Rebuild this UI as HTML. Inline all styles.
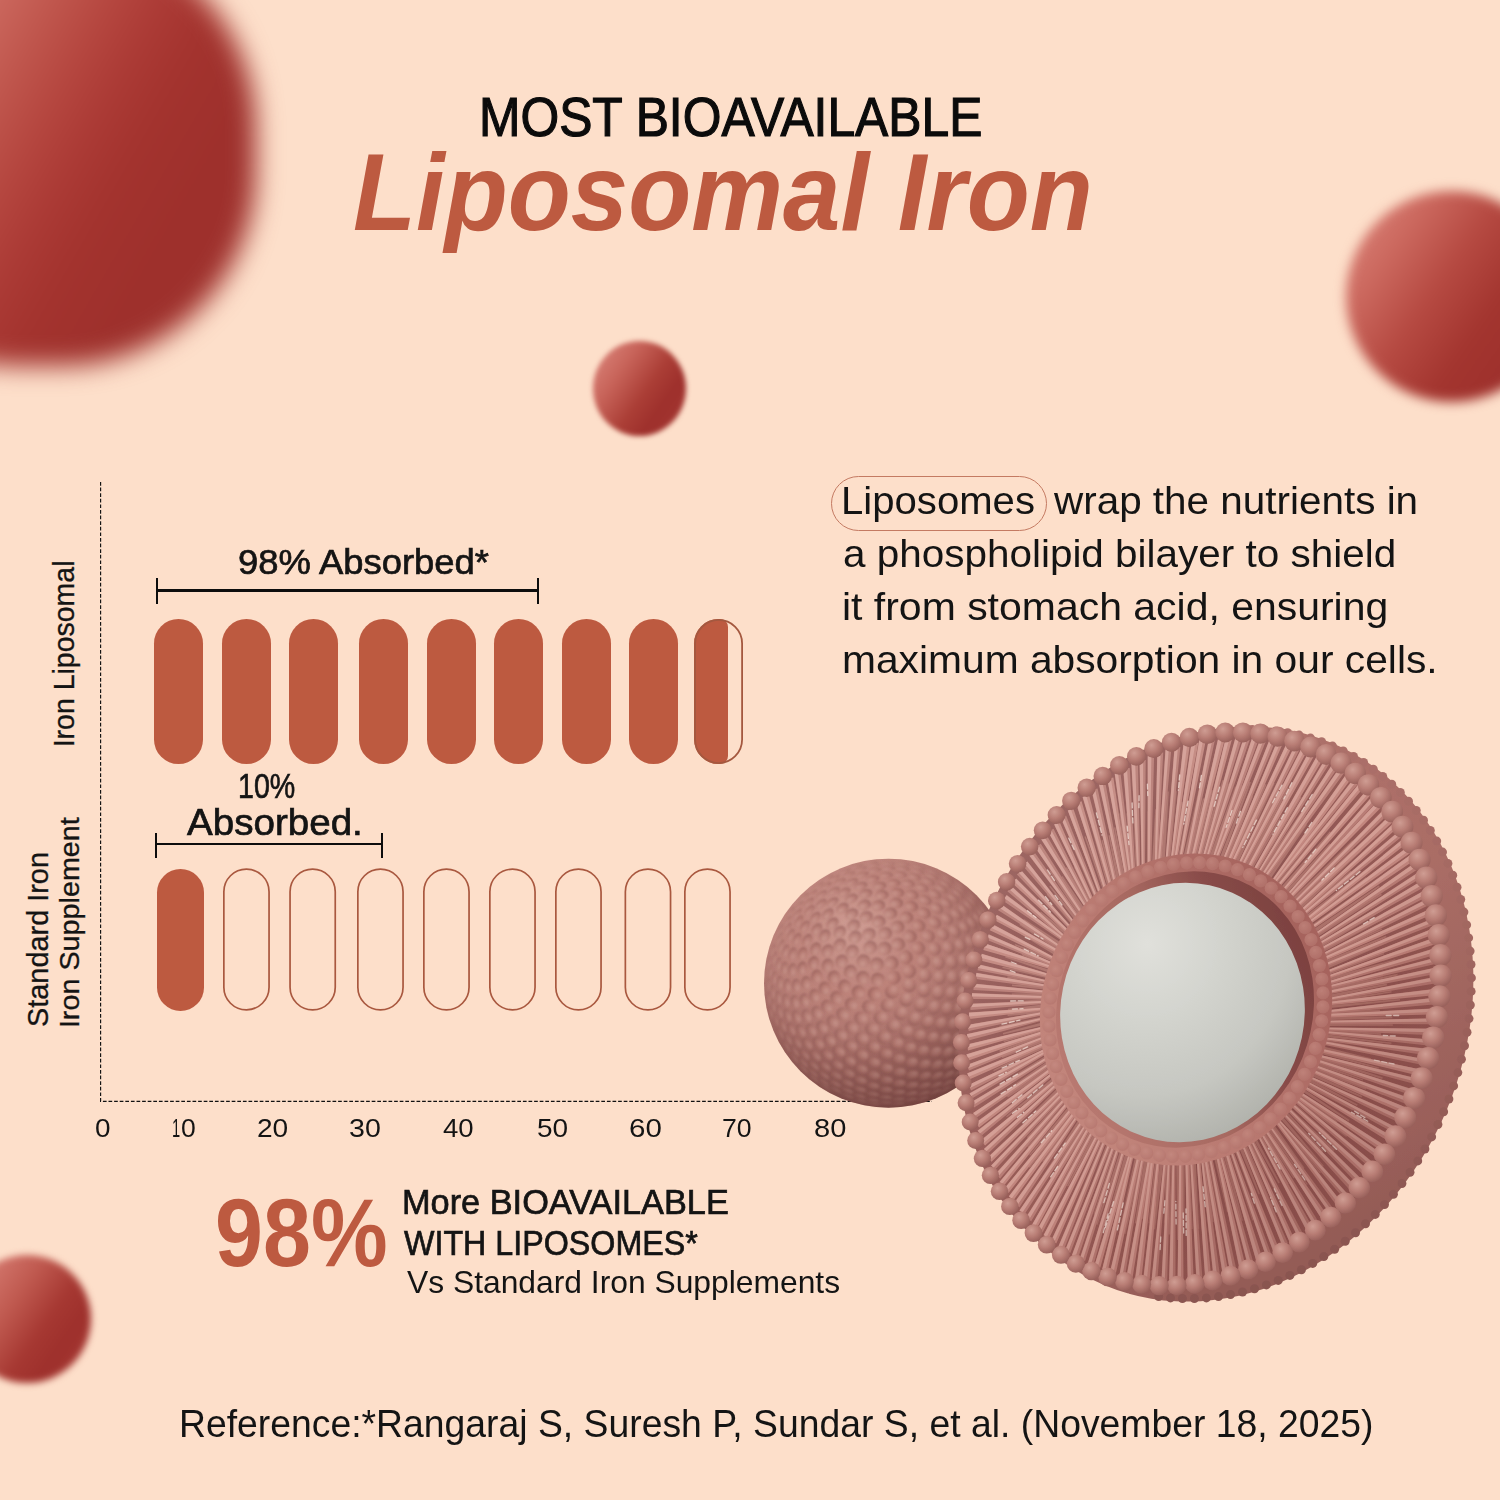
<!DOCTYPE html>
<html><head><meta charset="utf-8"><title>Liposomal Iron</title>
<style>
html,body{margin:0;padding:0}
html{width:1500px;height:1500px;overflow:hidden}
body{width:1500px;height:1500px;background:#FDDFCA;font-family:"Liberation Sans",sans-serif}
#stage{position:relative;width:1500px;height:1500px;overflow:hidden;background:#FDDFCA}
.t{position:absolute;white-space:nowrap;line-height:1;transform-origin:0 0;margin:0;padding:0}
.sp{position:absolute;border-radius:50%}
.pf{position:absolute;background:#BD5A40;border-radius:24.5px}
.po{position:absolute;box-sizing:border-box;border:1.6px solid #B8664E;border-radius:24.5px}
.bl{position:absolute;background:#0d0d0d}
svg{position:absolute;left:0;top:0}
</style></head><body><div id="stage">

<div class="sp" style="left:-176px;top:-66px;width:432px;height:432px;border-radius:45%;filter:blur(13px);background:linear-gradient(120deg,#D17267 25%,#CB675D 31%,#BF554C 40%,#B5463F 48%,#AB3A35 56%,#A3332E 64%,#9E302C 76%,#9F312D 100%)"></div>
<div class="sp" style="left:1346px;top:190.5px;width:211px;height:211px;filter:blur(6px);background:linear-gradient(125deg,#DB8379 5%,#CC695F 24%,#B64A42 44%,#A3352F 64%,#9E302C 82%,#A33530 100%)"></div>
<div class="sp" style="left:593px;top:341px;width:92.5px;height:95px;filter:blur(2.7px);background:linear-gradient(125deg,#DB857B 5%,#C8645A 30%,#AB3E36 55%,#9E302C 72%,#A63833 100%)"></div>
<div class="sp" style="left:-37.5px;top:1254.5px;width:128px;height:128px;filter:blur(3.8px);background:linear-gradient(125deg,#D4786E 15%,#C05A50 38%,#A63832 60%,#9E302C 75%,#A83A34 100%)"></div>

<div class="pf" style="left:154px;top:619px;width:49px;height:145px"></div>
<div class="pf" style="left:222px;top:619px;width:49px;height:145px"></div>
<div class="pf" style="left:289px;top:619px;width:49px;height:145px"></div>
<div class="pf" style="left:359px;top:619px;width:49px;height:145px"></div>
<div class="pf" style="left:427px;top:619px;width:49px;height:145px"></div>
<div class="pf" style="left:494px;top:619px;width:49px;height:145px"></div>
<div class="pf" style="left:562px;top:619px;width:49px;height:145px"></div>
<div class="pf" style="left:629px;top:619px;width:49px;height:145px"></div>
<div class="pf" style="left:694.2px;top:619px;width:34px;height:145px;border-radius:24.5px 8px 8px 24.5px / 24.5px 8px 8px 24.5px"></div>
<div class="pf" style="left:157px;top:868.5px;width:47.3px;height:142px"></div>
<svg width="1500" height="1500" viewBox="0 0 1500 1500"><rect x="695.10" y="619.90" width="47.00" height="143.20" rx="23.50" fill="none" stroke="#A4583F" stroke-width="1.8"/><rect x="223.85" y="869.15" width="45.20" height="140.70" rx="22.60" fill="none" stroke="#A9583F" stroke-width="1.7"/><rect x="290.05" y="869.15" width="45.20" height="140.70" rx="22.60" fill="none" stroke="#A9583F" stroke-width="1.7"/><rect x="357.85" y="869.15" width="45.20" height="140.70" rx="22.60" fill="none" stroke="#A9583F" stroke-width="1.7"/><rect x="423.85" y="869.15" width="45.20" height="140.70" rx="22.60" fill="none" stroke="#A9583F" stroke-width="1.7"/><rect x="489.85" y="869.15" width="45.20" height="140.70" rx="22.60" fill="none" stroke="#A9583F" stroke-width="1.7"/><rect x="555.85" y="869.15" width="45.20" height="140.70" rx="22.60" fill="none" stroke="#A9583F" stroke-width="1.7"/><rect x="625.35" y="869.15" width="45.20" height="140.70" rx="22.60" fill="none" stroke="#A9583F" stroke-width="1.7"/><rect x="684.85" y="869.15" width="45.20" height="140.70" rx="22.60" fill="none" stroke="#A9583F" stroke-width="1.7"/></svg>
<div class="bl" style="left:157px;top:589.3px;width:381px;height:2.4px"></div><div class="bl" style="left:156.1px;top:578px;width:1.8px;height:25.5px"></div><div class="bl" style="left:537.1px;top:578px;width:1.8px;height:25.5px"></div>
<div class="bl" style="left:156px;top:842.8px;width:226px;height:2.4px"></div><div class="bl" style="left:155.1px;top:833px;width:1.8px;height:25px"></div><div class="bl" style="left:381.1px;top:833px;width:1.8px;height:25px"></div>
<svg width="1500" height="1500" viewBox="0 0 1500 1500"><path d="M100.6 482V1101.3H932" fill="none" stroke="#111" stroke-width="1.15" stroke-dasharray="3.7 1.9"/></svg>
<div style="position:absolute;left:831px;top:476.3px;width:215.6px;height:55px;box-sizing:border-box;border:1.2px solid #C47A62;border-radius:27.5px"></div>
<svg width="1500" height="1500" viewBox="0 0 1500 1500"><defs><filter id="soft2" x="-5%" y="-5%" width="110%" height="110%"><feGaussianBlur stdDeviation="0.8"/></filter><filter id="soft" x="-2%" y="-2%" width="104%" height="104%"><feColorMatrix type="saturate" values="0.95"/><feGaussianBlur stdDeviation="0.7"/></filter>
<radialGradient id="gS" cx="0.36" cy="0.27" r="0.85">
 <stop offset="0" stop-color="#CE958B"/><stop offset="0.4" stop-color="#BC7E75"/><stop offset="0.75" stop-color="#9E635D"/><stop offset="1" stop-color="#88504C"/>
</radialGradient>
<radialGradient id="gSsh" cx="0.38" cy="0.30" r="0.8">
 <stop offset="0" stop-color="#fff" stop-opacity="0.07"/><stop offset="0.3" stop-color="#fff" stop-opacity="0"/><stop offset="0.6" stop-color="#4e2422" stop-opacity="0.08"/><stop offset="1" stop-color="#4e2422" stop-opacity="0.50"/>
</radialGradient>
<radialGradient id="gB" cx="0.38" cy="0.32" r="0.75">
 <stop offset="0" stop-color="#CC968C"/><stop offset="0.55" stop-color="#B6786F"/><stop offset="1" stop-color="#945B56"/>
</radialGradient>
<linearGradient id="gDome" x1="0" y1="0" x2="1" y2="1">
 <stop offset="0" stop-color="#B6766D"/><stop offset="0.45" stop-color="#AC6C64"/><stop offset="0.75" stop-color="#9C5F59"/><stop offset="1" stop-color="#8A524D"/>
</linearGradient>
<linearGradient id="gDome2" gradientUnits="userSpaceOnUse" x1="1250" y1="730" x2="1420" y2="1250">
 <stop offset="0" stop-color="#B0716A"/><stop offset="0.5" stop-color="#A3655E"/><stop offset="1" stop-color="#8A524D"/>
</linearGradient>
<radialGradient id="gFace" cx="0.45" cy="0.45" r="0.6">
 <stop offset="0" stop-color="#844845"/><stop offset="0.6" stop-color="#8F504C"/><stop offset="1" stop-color="#9C5B55"/>
</radialGradient>
<linearGradient id="gFaceSh" x1="0.08" y1="0.3" x2="0.95" y2="0.75">
 <stop offset="0" stop-color="#fff" stop-opacity="0.10"/><stop offset="0.45" stop-color="#fff" stop-opacity="0.03"/><stop offset="0.7" stop-color="#5a2523" stop-opacity="0.08"/><stop offset="1" stop-color="#5a2523" stop-opacity="0.24"/>
</linearGradient>
<linearGradient id="gInner" x1="0.75" y1="0.1" x2="0.2" y2="0.9">
 <stop offset="0" stop-color="#A8625C"/><stop offset="0.5" stop-color="#BA776E"/><stop offset="1" stop-color="#C4847A"/>
</linearGradient>
<radialGradient id="gIB" cx="0.4" cy="0.35" r="0.7">
 <stop offset="0" stop-color="#C88A80"/><stop offset="1" stop-color="#B5736B"/>
</radialGradient>
<linearGradient id="gCav" x1="0.85" y1="0.08" x2="0.15" y2="0.85">
 <stop offset="0" stop-color="#7C3F3D"/><stop offset="0.28" stop-color="#8A4A47"/><stop offset="0.55" stop-color="#A9685F"/><stop offset="1" stop-color="#BA786F"/>
</linearGradient>
<radialGradient id="gCore" cx="0.30" cy="0.27" r="0.9">
 <stop offset="0" stop-color="#E0E0DB"/><stop offset="0.3" stop-color="#D4D5CF"/><stop offset="0.65" stop-color="#C6C7C1"/><stop offset="1" stop-color="#A9AAA3"/>
</radialGradient>
<radialGradient id="gBead" cx="0.38" cy="0.32" r="0.75">
 <stop offset="0" stop-color="#D19C92"/><stop offset="0.5" stop-color="#BA7C73"/><stop offset="1" stop-color="#965C56"/>
</radialGradient>
</defs><g filter="url(#soft)"><circle cx="888.5" cy="983.2" r="124.5" fill="url(#gS)"/>
<g fill="url(#gB)" filter="url(#soft2)" opacity="0.9"><ellipse cx="991.3" cy="1048.4" rx="1.8" ry="7.0" transform="rotate(32.4 991.3 1048.4)" opacity="0.46"/><ellipse cx="873.1" cy="1103.9" rx="1.8" ry="7.0" transform="rotate(97.3 873.1 1103.9)" opacity="0.46"/><ellipse cx="870.9" cy="862.8" rx="1.8" ry="7.0" transform="rotate(-98.3 870.9 862.8)" opacity="0.46"/><ellipse cx="824.6" cy="1086.7" rx="1.8" ry="7.0" transform="rotate(121.7 824.6 1086.7)" opacity="0.46"/><ellipse cx="947.6" cy="877.0" rx="1.8" ry="7.0" transform="rotate(-60.9 947.6 877.0)" opacity="0.47"/><ellipse cx="827.4" cy="878.3" rx="1.8" ry="7.0" transform="rotate(-120.2 827.4 878.3)" opacity="0.48"/><ellipse cx="993.4" cy="922.0" rx="1.8" ry="7.0" transform="rotate(-30.3 993.4 922.0)" opacity="0.48"/><ellipse cx="998.8" cy="1033.9" rx="1.8" ry="7.0" transform="rotate(24.7 998.8 1033.9)" opacity="0.48"/><ellipse cx="770.7" cy="1012.3" rx="1.8" ry="7.0" transform="rotate(166.1 770.7 1012.3)" opacity="0.48"/><ellipse cx="965.5" cy="1076.9" rx="1.8" ry="7.0" transform="rotate(50.6 965.5 1076.9)" opacity="0.48"/><ellipse cx="769.0" cy="962.7" rx="1.8" ry="7.0" transform="rotate(-170.3 769.0 962.7)" opacity="0.48"/><ellipse cx="813.3" cy="1078.3" rx="1.8" ry="7.0" transform="rotate(128.3 813.3 1078.3)" opacity="0.49"/><ellipse cx="961.2" cy="886.4" rx="1.8" ry="7.0" transform="rotate(-53.1 961.2 886.4)" opacity="0.49"/><ellipse cx="856.8" cy="866.3" rx="1.8" ry="7.0" transform="rotate(-105.2 856.8 866.3)" opacity="0.49"/><ellipse cx="790.3" cy="912.5" rx="1.8" ry="7.0" transform="rotate(-144.3 790.3 912.5)" opacity="0.50"/><ellipse cx="897.9" cy="1103.7" rx="1.8" ry="7.0" transform="rotate(85.5 897.9 1103.7)" opacity="0.50"/><ellipse cx="860.2" cy="1100.7" rx="1.8" ry="7.0" transform="rotate(103.5 860.2 1100.7)" opacity="0.50"/><ellipse cx="803.1" cy="1068.6" rx="1.8" ry="7.0" transform="rotate(135.0 803.1 1068.6)" opacity="0.51"/><ellipse cx="779.9" cy="930.4" rx="1.8" ry="7.0" transform="rotate(-154.0 779.9 930.4)" opacity="0.51"/><ellipse cx="803.5" cy="897.5" rx="1.8" ry="7.0" transform="rotate(-134.8 803.5 897.5)" opacity="0.51"/><ellipse cx="768.8" cy="998.5" rx="1.8" ry="7.0" transform="rotate(172.7 768.8 998.5)" opacity="0.51"/><ellipse cx="945.2" cy="1089.7" rx="1.8" ry="7.0" transform="rotate(62.0 945.2 1089.7)" opacity="0.51"/><ellipse cx="922.3" cy="1098.9" rx="1.8" ry="7.0" transform="rotate(73.7 922.3 1098.9)" opacity="0.52"/><ellipse cx="973.3" cy="897.7" rx="1.8" ry="7.0" transform="rotate(-45.2 973.3 897.7)" opacity="0.52"/><ellipse cx="976.1" cy="1065.7" rx="1.8" ry="7.0" transform="rotate(43.3 976.1 1065.7)" opacity="0.52"/><ellipse cx="794.1" cy="1057.8" rx="1.8" ry="7.0" transform="rotate(141.7 794.1 1057.8)" opacity="0.52"/><ellipse cx="844.3" cy="871.6" rx="1.8" ry="7.0" transform="rotate(-111.6 844.3 871.6)" opacity="0.53"/><ellipse cx="847.4" cy="1096.0" rx="1.8" ry="7.0" transform="rotate(110.0 847.4 1096.0)" opacity="0.54"/><ellipse cx="773.1" cy="950.2" rx="1.8" ry="7.0" transform="rotate(-164.0 773.1 950.2)" opacity="0.54"/><ellipse cx="818.3" cy="886.0" rx="1.8" ry="7.0" transform="rotate(-125.8 818.3 886.0)" opacity="0.54"/><ellipse cx="768.7" cy="984.6" rx="1.8" ry="7.0" transform="rotate(179.3 768.7 984.6)" opacity="0.54"/><ellipse cx="786.4" cy="1045.9" rx="1.8" ry="7.0" transform="rotate(148.4 786.4 1045.9)" opacity="0.54"/><ellipse cx="903.3" cy="864.4" rx="1.8" ry="7.0" transform="rotate(-82.9 903.3 864.4)" opacity="0.54"/><ellipse cx="918.5" cy="867.3" rx="1.8" ry="7.0" transform="rotate(-75.5 918.5 867.3)" opacity="0.55"/><ellipse cx="983.7" cy="910.8" rx="1.8" ry="7.0" transform="rotate(-37.2 983.7 910.8)" opacity="0.55"/><ellipse cx="885.2" cy="1102.7" rx="1.8" ry="7.0" transform="rotate(91.6 885.2 1102.7)" opacity="0.55"/><ellipse cx="888.2" cy="863.7" rx="1.8" ry="7.0" transform="rotate(-90.2 888.2 863.7)" opacity="0.55"/><ellipse cx="985.7" cy="1052.7" rx="1.8" ry="7.0" transform="rotate(35.6 985.7 1052.7)" opacity="0.55"/><ellipse cx="933.4" cy="872.5" rx="1.8" ry="7.0" transform="rotate(-67.9 933.4 872.5)" opacity="0.55"/><ellipse cx="780.3" cy="1033.2" rx="1.8" ry="7.0" transform="rotate(155.2 780.3 1033.2)" opacity="0.56"/><ellipse cx="835.1" cy="1089.7" rx="1.8" ry="7.0" transform="rotate(116.6 835.1 1089.7)" opacity="0.56"/><ellipse cx="957.0" cy="1080.6" rx="1.8" ry="7.0" transform="rotate(54.9 957.0 1080.6)" opacity="0.56"/><ellipse cx="947.5" cy="880.0" rx="1.8" ry="7.0" transform="rotate(-60.2 947.5 880.0)" opacity="0.57"/><ellipse cx="873.7" cy="865.3" rx="1.8" ry="7.0" transform="rotate(-97.2 873.7 865.3)" opacity="0.57"/><ellipse cx="993.8" cy="1038.1" rx="1.8" ry="7.0" transform="rotate(27.5 993.8 1038.1)" opacity="0.57"/><ellipse cx="910.5" cy="1099.8" rx="1.8" ry="7.0" transform="rotate(79.3 910.5 1099.8)" opacity="0.58"/><ellipse cx="992.1" cy="925.5" rx="1.8" ry="7.0" transform="rotate(-29.1 992.1 925.5)" opacity="0.58"/><ellipse cx="770.6" cy="971.0" rx="1.8" ry="7.0" transform="rotate(-174.1 770.6 971.0)" opacity="0.58"/><ellipse cx="787.5" cy="921.2" rx="1.8" ry="7.0" transform="rotate(-148.4 787.5 921.2)" opacity="0.58"/><ellipse cx="934.8" cy="1092.2" rx="1.8" ry="7.0" transform="rotate(67.0 934.8 1092.2)" opacity="0.58"/><ellipse cx="775.9" cy="1019.8" rx="1.8" ry="7.0" transform="rotate(162.0 775.9 1019.8)" opacity="0.58"/><ellipse cx="798.8" cy="906.1" rx="1.8" ry="7.0" transform="rotate(-139.3 798.8 906.1)" opacity="0.59"/><ellipse cx="833.8" cy="878.3" rx="1.8" ry="7.0" transform="rotate(-117.5 833.8 878.3)" opacity="0.59"/><ellipse cx="823.5" cy="1082.0" rx="1.8" ry="7.0" transform="rotate(123.4 823.5 1082.0)" opacity="0.59"/><ellipse cx="872.3" cy="1100.2" rx="1.9" ry="7.0" transform="rotate(97.9 872.3 1100.2)" opacity="0.59"/><ellipse cx="960.5" cy="889.7" rx="1.9" ry="7.0" transform="rotate(-52.4 960.5 889.7)" opacity="0.59"/><ellipse cx="779.3" cy="938.8" rx="1.9" ry="7.0" transform="rotate(-157.9 779.3 938.8)" opacity="0.60"/><ellipse cx="860.4" cy="869.0" rx="2.0" ry="7.0" transform="rotate(-103.8 860.4 869.0)" opacity="0.61"/><ellipse cx="998.3" cy="941.3" rx="2.0" ry="7.0" transform="rotate(-20.9 998.3 941.3)" opacity="0.61"/><ellipse cx="968.2" cy="1069.5" rx="2.0" ry="7.0" transform="rotate(47.3 968.2 1069.5)" opacity="0.61"/><ellipse cx="812.7" cy="1072.9" rx="2.0" ry="7.0" transform="rotate(130.2 812.7 1072.9)" opacity="0.61"/><ellipse cx="773.3" cy="1005.9" rx="2.0" ry="7.0" transform="rotate(168.8 773.3 1005.9)" opacity="0.61"/><ellipse cx="811.9" cy="894.3" rx="2.0" ry="7.0" transform="rotate(-130.7 811.9 894.3)" opacity="0.61"/><ellipse cx="971.9" cy="901.2" rx="2.1" ry="7.0" transform="rotate(-44.5 971.9 901.2)" opacity="0.62"/><ellipse cx="859.4" cy="1096.2" rx="2.2" ry="7.0" transform="rotate(104.4 859.4 1096.2)" opacity="0.63"/><ellipse cx="803.1" cy="1062.6" rx="2.2" ry="7.0" transform="rotate(137.1 803.1 1062.6)" opacity="0.63"/><ellipse cx="774.7" cy="958.0" rx="2.2" ry="7.0" transform="rotate(-167.5 774.7 958.0)" opacity="0.63"/><ellipse cx="898.0" cy="1099.4" rx="2.2" ry="7.0" transform="rotate(85.3 898.0 1099.4)" opacity="0.63"/><ellipse cx="947.1" cy="1083.5" rx="2.2" ry="7.0" transform="rotate(59.7 947.1 1083.5)" opacity="0.64"/><ellipse cx="772.7" cy="991.9" rx="2.3" ry="7.0" transform="rotate(175.7 772.7 991.9)" opacity="0.64"/><ellipse cx="978.4" cy="1056.6" rx="2.3" ry="7.0" transform="rotate(39.2 978.4 1056.6)" opacity="0.64"/><ellipse cx="923.4" cy="1093.6" rx="2.3" ry="7.0" transform="rotate(72.5 923.4 1093.6)" opacity="0.65"/><ellipse cx="794.8" cy="1051.2" rx="2.3" ry="7.0" transform="rotate(144.1 794.8 1051.2)" opacity="0.65"/><ellipse cx="981.6" cy="914.6" rx="2.3" ry="7.0" transform="rotate(-36.4 981.6 914.6)" opacity="0.65"/><ellipse cx="917.6" cy="871.3" rx="2.3" ry="7.0" transform="rotate(-75.4 917.6 871.3)" opacity="0.65"/><ellipse cx="848.7" cy="874.7" rx="2.3" ry="7.0" transform="rotate(-110.1 848.7 874.7)" opacity="0.65"/><ellipse cx="902.9" cy="868.6" rx="2.3" ry="7.0" transform="rotate(-82.8 902.9 868.6)" opacity="0.65"/><ellipse cx="825.9" cy="886.2" rx="2.4" ry="7.0" transform="rotate(-122.8 825.9 886.2)" opacity="0.65"/><ellipse cx="846.9" cy="1090.6" rx="2.4" ry="7.0" transform="rotate(111.2 846.9 1090.6)" opacity="0.66"/><ellipse cx="932.0" cy="876.5" rx="2.4" ry="7.0" transform="rotate(-67.8 932.0 876.5)" opacity="0.66"/><ellipse cx="987.3" cy="1042.2" rx="2.4" ry="7.0" transform="rotate(30.9 987.3 1042.2)" opacity="0.66"/><ellipse cx="888.4" cy="868.3" rx="2.4" ry="7.0" transform="rotate(-90.1 888.4 868.3)" opacity="0.66"/><ellipse cx="788.0" cy="1038.8" rx="2.5" ry="7.0" transform="rotate(151.1 788.0 1038.8)" opacity="0.67"/><ellipse cx="787.6" cy="928.9" rx="2.5" ry="7.0" transform="rotate(-151.7 787.6 928.9)" opacity="0.67"/><ellipse cx="797.1" cy="914.2" rx="2.5" ry="7.0" transform="rotate(-143.0 797.1 914.2)" opacity="0.67"/><ellipse cx="994.4" cy="1026.5" rx="2.5" ry="7.0" transform="rotate(22.2 994.4 1026.5)" opacity="0.67"/><ellipse cx="945.5" cy="884.0" rx="2.5" ry="7.0" transform="rotate(-60.1 945.5 884.0)" opacity="0.67"/><ellipse cx="885.2" cy="1097.5" rx="2.5" ry="7.0" transform="rotate(91.7 885.2 1097.5)" opacity="0.68"/><ellipse cx="999.7" cy="1009.9" rx="2.5" ry="7.0" transform="rotate(13.5 999.7 1009.9)" opacity="0.68"/><ellipse cx="774.4" cy="977.9" rx="2.5" ry="7.0" transform="rotate(-177.3 774.4 977.9)" opacity="0.68"/><ellipse cx="989.2" cy="929.4" rx="2.6" ry="7.0" transform="rotate(-28.1 989.2 929.4)" opacity="0.68"/><ellipse cx="958.9" cy="1072.7" rx="2.6" ry="7.0" transform="rotate(51.8 958.9 1072.7)" opacity="0.68"/><ellipse cx="834.9" cy="1083.6" rx="2.6" ry="7.0" transform="rotate(118.1 834.9 1083.6)" opacity="0.68"/><ellipse cx="782.9" cy="1025.5" rx="2.6" ry="7.0" transform="rotate(158.2 782.9 1025.5)" opacity="0.69"/><ellipse cx="874.6" cy="870.4" rx="2.6" ry="7.0" transform="rotate(-97.0 874.6 870.4)" opacity="0.69"/><ellipse cx="781.2" cy="945.9" rx="2.6" ry="7.0" transform="rotate(-160.8 781.2 945.9)" opacity="0.69"/><ellipse cx="808.7" cy="902.7" rx="2.7" ry="7.0" transform="rotate(-134.8 808.7 902.7)" opacity="0.69"/><ellipse cx="957.9" cy="893.7" rx="2.7" ry="7.0" transform="rotate(-52.2 957.9 893.7)" opacity="0.70"/><ellipse cx="911.2" cy="1093.8" rx="2.7" ry="7.0" transform="rotate(78.4 911.2 1093.8)" opacity="0.70"/><ellipse cx="936.1" cy="1085.3" rx="2.8" ry="7.0" transform="rotate(65.0 936.1 1085.3)" opacity="0.71"/><ellipse cx="994.6" cy="945.4" rx="2.8" ry="7.0" transform="rotate(-19.6 994.6 945.4)" opacity="0.71"/><ellipse cx="823.6" cy="1075.2" rx="2.8" ry="7.0" transform="rotate(125.2 823.6 1075.2)" opacity="0.71"/><ellipse cx="779.7" cy="1011.7" rx="2.8" ry="7.0" transform="rotate(165.3 779.7 1011.7)" opacity="0.71"/><ellipse cx="839.5" cy="882.1" rx="2.8" ry="7.0" transform="rotate(-115.9 839.5 882.1)" opacity="0.71"/><ellipse cx="872.3" cy="1094.2" rx="2.8" ry="7.0" transform="rotate(98.3 872.3 1094.2)" opacity="0.71"/><ellipse cx="969.7" cy="1060.1" rx="2.9" ry="7.0" transform="rotate(43.4 969.7 1060.1)" opacity="0.72"/><ellipse cx="968.7" cy="905.3" rx="2.9" ry="7.0" transform="rotate(-44.1 968.7 905.3)" opacity="0.72"/><ellipse cx="778.5" cy="964.2" rx="2.9" ry="7.0" transform="rotate(-170.2 778.5 964.2)" opacity="0.72"/><ellipse cx="862.0" cy="875.0" rx="2.9" ry="7.0" transform="rotate(-103.8 862.0 875.0)" opacity="0.73"/><ellipse cx="813.5" cy="1065.5" rx="2.9" ry="7.0" transform="rotate(132.4 813.5 1065.5)" opacity="0.73"/><ellipse cx="997.7" cy="962.2" rx="2.9" ry="7.0" transform="rotate(-10.9 997.7 962.2)" opacity="0.73"/><ellipse cx="821.2" cy="894.9" rx="3.0" ry="7.0" transform="rotate(-127.3 821.2 894.9)" opacity="0.73"/><ellipse cx="778.7" cy="997.4" rx="3.0" ry="7.0" transform="rotate(172.7 778.7 997.4)" opacity="0.74"/><ellipse cx="979.2" cy="1045.9" rx="3.1" ry="7.0" transform="rotate(34.7 979.2 1045.9)" opacity="0.74"/><ellipse cx="804.5" cy="1054.5" rx="3.1" ry="7.0" transform="rotate(139.7 804.5 1054.5)" opacity="0.75"/><ellipse cx="977.7" cy="918.7" rx="3.1" ry="7.0" transform="rotate(-35.9 977.7 918.7)" opacity="0.75"/><ellipse cx="859.5" cy="1089.4" rx="3.1" ry="7.0" transform="rotate(105.3 859.5 1089.4)" opacity="0.75"/><ellipse cx="998.5" cy="979.4" rx="3.1" ry="7.0" transform="rotate(-2.0 998.5 979.4)" opacity="0.75"/><ellipse cx="898.5" cy="1092.6" rx="3.1" ry="7.0" transform="rotate(84.8 898.5 1092.6)" opacity="0.75"/><ellipse cx="948.4" cy="1075.0" rx="3.1" ry="7.0" transform="rotate(56.9 948.4 1075.0)" opacity="0.75"/><ellipse cx="914.3" cy="876.8" rx="3.2" ry="7.0" transform="rotate(-76.3 914.3 876.8)" opacity="0.76"/><ellipse cx="987.0" cy="1030.4" rx="3.2" ry="7.0" transform="rotate(25.6 987.0 1030.4)" opacity="0.76"/><ellipse cx="996.9" cy="996.8" rx="3.2" ry="7.0" transform="rotate(7.2 996.9 996.8)" opacity="0.76"/><ellipse cx="900.1" cy="874.6" rx="3.2" ry="7.0" transform="rotate(-83.9 900.1 874.6)" opacity="0.76"/><ellipse cx="928.3" cy="881.5" rx="3.2" ry="7.0" transform="rotate(-68.6 928.3 881.5)" opacity="0.76"/><ellipse cx="790.7" cy="935.2" rx="3.2" ry="7.0" transform="rotate(-153.9 790.7 935.2)" opacity="0.76"/><ellipse cx="993.0" cy="1013.9" rx="3.2" ry="7.0" transform="rotate(16.4 993.0 1013.9)" opacity="0.76"/><ellipse cx="797.1" cy="1042.4" rx="3.2" ry="7.0" transform="rotate(147.1 797.1 1042.4)" opacity="0.76"/><ellipse cx="798.8" cy="921.4" rx="3.2" ry="7.0" transform="rotate(-145.4 798.8 921.4)" opacity="0.76"/><ellipse cx="924.3" cy="1086.0" rx="3.2" ry="7.0" transform="rotate(70.8 924.3 1086.0)" opacity="0.76"/><ellipse cx="780.1" cy="982.8" rx="3.3" ry="7.0" transform="rotate(-179.8 780.1 982.8)" opacity="0.77"/><ellipse cx="941.4" cy="888.8" rx="3.3" ry="7.0" transform="rotate(-60.7 941.4 888.8)" opacity="0.77"/><ellipse cx="984.7" cy="933.6" rx="3.3" ry="7.0" transform="rotate(-27.3 984.7 933.6)" opacity="0.77"/><ellipse cx="847.2" cy="1083.1" rx="3.3" ry="7.0" transform="rotate(112.5 847.2 1083.1)" opacity="0.78"/><ellipse cx="885.9" cy="875.3" rx="3.3" ry="7.0" transform="rotate(-91.4 885.9 875.3)" opacity="0.78"/><ellipse cx="785.7" cy="951.2" rx="3.3" ry="7.0" transform="rotate(-162.7 785.7 951.2)" opacity="0.78"/><ellipse cx="851.5" cy="882.2" rx="3.4" ry="7.0" transform="rotate(-110.1 851.5 882.2)" opacity="0.78"/><ellipse cx="791.4" cy="1029.3" rx="3.4" ry="7.0" transform="rotate(154.6 791.4 1029.3)" opacity="0.78"/><ellipse cx="809.3" cy="910.7" rx="3.4" ry="7.0" transform="rotate(-137.5 809.3 910.7)" opacity="0.78"/><ellipse cx="833.5" cy="891.3" rx="3.4" ry="7.0" transform="rotate(-120.9 833.5 891.3)" opacity="0.79"/><ellipse cx="953.3" cy="898.2" rx="3.4" ry="7.0" transform="rotate(-52.7 953.3 898.2)" opacity="0.79"/><ellipse cx="885.6" cy="1090.0" rx="3.4" ry="7.0" transform="rotate(91.6 885.6 1090.0)" opacity="0.79"/><ellipse cx="959.7" cy="1062.8" rx="3.4" ry="7.0" transform="rotate(48.2 959.7 1062.8)" opacity="0.79"/><ellipse cx="989.4" cy="949.5" rx="3.5" ry="7.0" transform="rotate(-18.5 989.4 949.5)" opacity="0.80"/><ellipse cx="835.6" cy="1075.3" rx="3.5" ry="7.0" transform="rotate(119.9 835.6 1075.3)" opacity="0.80"/><ellipse cx="787.7" cy="1015.4" rx="3.5" ry="7.0" transform="rotate(162.3 787.7 1015.4)" opacity="0.80"/><ellipse cx="872.6" cy="878.9" rx="3.6" ry="7.0" transform="rotate(-98.7 872.6 878.9)" opacity="0.81"/><ellipse cx="784.5" cy="968.4" rx="3.6" ry="7.0" transform="rotate(-171.9 784.5 968.4)" opacity="0.81"/><ellipse cx="963.6" cy="909.8" rx="3.6" ry="7.0" transform="rotate(-44.4 963.6 909.8)" opacity="0.81"/><ellipse cx="911.8" cy="1085.5" rx="3.6" ry="7.0" transform="rotate(77.2 911.8 1085.5)" opacity="0.82"/><ellipse cx="936.9" cy="1076.2" rx="3.6" ry="7.0" transform="rotate(62.5 936.9 1076.2)" opacity="0.82"/><ellipse cx="991.7" cy="966.3" rx="3.7" ry="7.0" transform="rotate(-9.3 991.7 966.3)" opacity="0.82"/><ellipse cx="824.9" cy="1066.2" rx="3.7" ry="7.0" transform="rotate(127.5 824.9 1066.2)" opacity="0.82"/><ellipse cx="969.7" cy="1049.0" rx="3.7" ry="7.0" transform="rotate(39.0 969.7 1049.0)" opacity="0.82"/><ellipse cx="820.9" cy="904.1" rx="3.7" ry="7.0" transform="rotate(-130.5 820.9 904.1)" opacity="0.83"/><ellipse cx="872.7" cy="1085.9" rx="3.7" ry="7.0" transform="rotate(98.7 872.7 1085.9)" opacity="0.83"/><ellipse cx="786.2" cy="1000.7" rx="3.7" ry="7.0" transform="rotate(170.3 786.2 1000.7)" opacity="0.83"/><ellipse cx="991.7" cy="983.5" rx="3.8" ry="7.0" transform="rotate(0.2 991.7 983.5)" opacity="0.84"/><ellipse cx="978.2" cy="1033.8" rx="3.8" ry="7.0" transform="rotate(29.4 978.2 1033.8)" opacity="0.84"/><ellipse cx="972.0" cy="923.0" rx="3.8" ry="7.0" transform="rotate(-35.8 972.0 923.0)" opacity="0.84"/><ellipse cx="815.4" cy="1055.7" rx="3.8" ry="7.0" transform="rotate(135.2 815.4 1055.7)" opacity="0.84"/><ellipse cx="989.4" cy="1000.7" rx="3.8" ry="7.0" transform="rotate(9.8 989.4 1000.7)" opacity="0.84"/><ellipse cx="984.9" cy="1017.6" rx="3.9" ry="7.0" transform="rotate(19.6 984.9 1017.6)" opacity="0.85"/><ellipse cx="797.0" cy="939.4" rx="3.9" ry="7.0" transform="rotate(-154.4 797.0 939.4)" opacity="0.86"/><ellipse cx="908.0" cy="883.7" rx="3.9" ry="7.0" transform="rotate(-78.9 908.0 883.7)" opacity="0.86"/><ellipse cx="807.4" cy="1043.9" rx="3.9" ry="7.0" transform="rotate(143.2 807.4 1043.9)" opacity="0.86"/><ellipse cx="921.8" cy="887.6" rx="3.9" ry="7.0" transform="rotate(-70.8 921.8 887.6)" opacity="0.86"/><ellipse cx="860.2" cy="1080.3" rx="4.0" ry="7.0" transform="rotate(106.3 860.2 1080.3)" opacity="0.86"/><ellipse cx="948.6" cy="1064.6" rx="4.0" ry="7.0" transform="rotate(53.5 948.6 1064.6)" opacity="0.86"/><ellipse cx="844.1" cy="892.3" rx="4.0" ry="7.0" transform="rotate(-116.0 844.1 892.3)" opacity="0.86"/><ellipse cx="804.7" cy="926.8" rx="4.0" ry="7.0" transform="rotate(-146.1 804.7 926.8)" opacity="0.86"/><ellipse cx="860.7" cy="886.1" rx="4.0" ry="7.0" transform="rotate(-106.0 860.7 886.1)" opacity="0.86"/><ellipse cx="898.9" cy="1083.6" rx="4.0" ry="7.0" transform="rotate(84.1 898.9 1083.6)" opacity="0.86"/><ellipse cx="787.6" cy="985.6" rx="4.0" ry="7.0" transform="rotate(178.6 787.6 985.6)" opacity="0.86"/><ellipse cx="978.4" cy="937.8" rx="4.0" ry="7.0" transform="rotate(-26.8 978.4 937.8)" opacity="0.86"/><ellipse cx="934.8" cy="894.1" rx="4.0" ry="7.0" transform="rotate(-62.6 934.8 894.1)" opacity="0.87"/><ellipse cx="893.7" cy="883.0" rx="4.0" ry="7.0" transform="rotate(-87.0 893.7 883.0)" opacity="0.87"/><ellipse cx="792.7" cy="954.1" rx="4.0" ry="7.0" transform="rotate(-163.1 792.7 954.1)" opacity="0.87"/><ellipse cx="924.7" cy="1076.3" rx="4.1" ry="7.0" transform="rotate(68.8 924.7 1076.3)" opacity="0.87"/><ellipse cx="801.0" cy="1030.9" rx="4.1" ry="7.0" transform="rotate(151.4 801.0 1030.9)" opacity="0.87"/><ellipse cx="946.4" cy="903.1" rx="4.1" ry="7.0" transform="rotate(-54.1 946.4 903.1)" opacity="0.88"/><ellipse cx="848.2" cy="1073.3" rx="4.2" ry="7.0" transform="rotate(114.1 848.2 1073.3)" opacity="0.88"/><ellipse cx="982.5" cy="953.6" rx="4.2" ry="7.0" transform="rotate(-17.5 982.5 953.6)" opacity="0.89"/><ellipse cx="815.1" cy="917.8" rx="4.2" ry="7.0" transform="rotate(-138.3 815.1 917.8)" opacity="0.89"/><ellipse cx="832.4" cy="902.5" rx="4.2" ry="7.0" transform="rotate(-124.8 832.4 902.5)" opacity="0.89"/><ellipse cx="959.2" cy="1051.2" rx="4.2" ry="7.0" transform="rotate(43.9 959.2 1051.2)" opacity="0.89"/><ellipse cx="879.4" cy="885.9" rx="4.2" ry="7.0" transform="rotate(-95.3 879.4 885.9)" opacity="0.89"/><ellipse cx="796.8" cy="1016.9" rx="4.2" ry="7.0" transform="rotate(159.8 796.8 1016.9)" opacity="0.89"/><ellipse cx="886.0" cy="1080.2" rx="4.3" ry="7.0" transform="rotate(91.5 886.0 1080.2)" opacity="0.90"/><ellipse cx="792.5" cy="970.0" rx="4.3" ry="7.0" transform="rotate(-172.2 792.5 970.0)" opacity="0.90"/><ellipse cx="956.4" cy="914.3" rx="4.3" ry="7.0" transform="rotate(-45.5 956.4 914.3)" opacity="0.90"/><ellipse cx="984.2" cy="970.2" rx="4.3" ry="7.0" transform="rotate(-7.8 984.2 970.2)" opacity="0.90"/><ellipse cx="837.0" cy="1064.7" rx="4.3" ry="7.0" transform="rotate(122.3 837.0 1064.7)" opacity="0.91"/><ellipse cx="968.2" cy="1036.5" rx="4.4" ry="7.0" transform="rotate(33.8 968.2 1036.5)" opacity="0.91"/><ellipse cx="795.1" cy="1001.8" rx="4.4" ry="7.0" transform="rotate(168.7 795.1 1001.8)" opacity="0.92"/><ellipse cx="936.7" cy="1065.3" rx="4.4" ry="7.0" transform="rotate(59.5 936.7 1065.3)" opacity="0.92"/><ellipse cx="983.6" cy="987.1" rx="4.4" ry="7.0" transform="rotate(2.4 983.6 987.1)" opacity="0.92"/><ellipse cx="912.0" cy="1075.1" rx="4.4" ry="7.0" transform="rotate(75.7 912.0 1075.1)" opacity="0.92"/><ellipse cx="975.4" cy="1020.7" rx="4.5" ry="7.0" transform="rotate(23.3 975.4 1020.7)" opacity="0.92"/><ellipse cx="980.6" cy="1004.1" rx="4.5" ry="7.0" transform="rotate(12.8 980.6 1004.1)" opacity="0.92"/><ellipse cx="964.4" cy="927.2" rx="4.5" ry="7.0" transform="rotate(-36.4 964.4 927.2)" opacity="0.93"/><ellipse cx="827.0" cy="1054.7" rx="4.5" ry="7.0" transform="rotate(130.7 827.0 1054.7)" opacity="0.93"/><ellipse cx="873.3" cy="1075.4" rx="4.5" ry="7.0" transform="rotate(99.4 873.3 1075.4)" opacity="0.93"/><ellipse cx="851.3" cy="898.6" rx="4.6" ry="7.0" transform="rotate(-113.7 851.3 898.6)" opacity="0.94"/><ellipse cx="865.6" cy="893.7" rx="4.6" ry="7.0" transform="rotate(-104.3 865.6 893.7)" opacity="0.94"/><ellipse cx="818.4" cy="1043.2" rx="4.6" ry="7.0" transform="rotate(139.5 818.4 1043.2)" opacity="0.94"/><ellipse cx="796.5" cy="985.7" rx="4.6" ry="7.0" transform="rotate(178.4 796.5 985.7)" opacity="0.94"/><ellipse cx="827.7" cy="914.1" rx="4.6" ry="7.0" transform="rotate(-131.3 827.7 914.1)" opacity="0.94"/><ellipse cx="807.3" cy="940.4" rx="4.6" ry="7.0" transform="rotate(-152.2 807.3 940.4)" opacity="0.95"/><ellipse cx="970.3" cy="941.7" rx="4.6" ry="7.0" transform="rotate(-26.9 970.3 941.7)" opacity="0.95"/><ellipse cx="911.8" cy="894.6" rx="4.7" ry="7.0" transform="rotate(-75.3 911.8 894.6)" opacity="0.95"/><ellipse cx="947.7" cy="1052.5" rx="4.7" ry="7.0" transform="rotate(49.5 947.7 1052.5)" opacity="0.95"/><ellipse cx="897.3" cy="892.6" rx="4.7" ry="7.0" transform="rotate(-84.5 897.3 892.6)" opacity="0.95"/><ellipse cx="925.1" cy="900.0" rx="4.7" ry="7.0" transform="rotate(-66.3 925.1 900.0)" opacity="0.95"/><ellipse cx="802.5" cy="953.9" rx="4.7" ry="7.0" transform="rotate(-161.2 802.5 953.9)" opacity="0.95"/><ellipse cx="811.5" cy="1030.3" rx="4.7" ry="7.0" transform="rotate(148.6 811.5 1030.3)" opacity="0.96"/><ellipse cx="861.0" cy="1069.0" rx="4.7" ry="7.0" transform="rotate(107.8 861.0 1069.0)" opacity="0.96"/><ellipse cx="899.1" cy="1072.5" rx="4.8" ry="7.0" transform="rotate(83.3 899.1 1072.5)" opacity="0.96"/><ellipse cx="816.6" cy="929.4" rx="4.8" ry="7.0" transform="rotate(-143.2 816.6 929.4)" opacity="0.96"/><ellipse cx="936.8" cy="908.1" rx="4.8" ry="7.0" transform="rotate(-57.2 936.8 908.1)" opacity="0.97"/><ellipse cx="973.9" cy="957.2" rx="4.8" ry="7.0" transform="rotate(-16.9 973.9 957.2)" opacity="0.97"/><ellipse cx="924.3" cy="1064.7" rx="4.8" ry="7.0" transform="rotate(66.3 924.3 1064.7)" opacity="0.97"/><ellipse cx="881.7" cy="895.0" rx="4.9" ry="7.0" transform="rotate(-94.4 881.7 895.0)" opacity="0.97"/><ellipse cx="806.8" cy="1016.0" rx="4.9" ry="7.0" transform="rotate(158.1 806.8 1016.0)" opacity="0.98"/><ellipse cx="957.1" cy="1038.2" rx="4.9" ry="7.0" transform="rotate(38.7 957.1 1038.2)" opacity="0.98"/><ellipse cx="842.3" cy="908.4" rx="4.9" ry="7.0" transform="rotate(-121.7 842.3 908.4)" opacity="0.98"/><ellipse cx="802.2" cy="968.5" rx="4.9" ry="7.0" transform="rotate(-170.3 802.2 968.5)" opacity="0.98"/><ellipse cx="975.1" cy="973.5" rx="4.9" ry="7.0" transform="rotate(-6.4 975.1 973.5)" opacity="0.98"/><ellipse cx="849.4" cy="1061.0" rx="4.9" ry="7.0" transform="rotate(116.7 849.4 1061.0)" opacity="0.98"/><ellipse cx="946.8" cy="918.6" rx="4.9" ry="7.0" transform="rotate(-47.9 946.8 918.6)" opacity="0.98"/><ellipse cx="964.8" cy="1022.9" rx="5.0" ry="7.0" transform="rotate(27.5 964.8 1022.9)" opacity="0.99"/><ellipse cx="974.0" cy="990.2" rx="5.0" ry="7.0" transform="rotate(4.7 974.0 990.2)" opacity="0.99"/><ellipse cx="804.7" cy="1000.3" rx="5.0" ry="7.0" transform="rotate(168.5 804.7 1000.3)" opacity="1.00"/><ellipse cx="970.5" cy="1006.7" rx="5.0" ry="7.0" transform="rotate(16.0 970.5 1006.7)" opacity="1.00"/><ellipse cx="886.2" cy="1068.3" rx="5.0" ry="7.0" transform="rotate(91.6 886.2 1068.3)" opacity="1.00"/><ellipse cx="838.9" cy="1051.4" rx="5.1" ry="7.0" transform="rotate(126.0 838.9 1051.4)" opacity="1.00"/><ellipse cx="954.7" cy="931.1" rx="5.1" ry="7.0" transform="rotate(-38.2 954.7 931.1)" opacity="1.00"/><ellipse cx="935.5" cy="1052.5" rx="5.1" ry="7.0" transform="rotate(55.9 935.5 1052.5)" opacity="1.00"/><ellipse cx="911.4" cy="1062.7" rx="5.2" ry="7.0" transform="rotate(73.9 911.4 1062.7)" opacity="1.00"/><ellipse cx="806.3" cy="982.9" rx="5.2" ry="7.0" transform="rotate(-179.8 806.3 982.9)" opacity="1.00"/><ellipse cx="832.4" cy="923.5" rx="5.2" ry="7.0" transform="rotate(-133.2 832.4 923.5)" opacity="1.00"/><ellipse cx="829.7" cy="1040.2" rx="5.2" ry="7.0" transform="rotate(135.9 829.7 1040.2)" opacity="1.00"/><ellipse cx="864.2" cy="905.0" rx="5.2" ry="7.0" transform="rotate(-107.3 864.2 905.0)" opacity="1.00"/><ellipse cx="960.4" cy="945.1" rx="5.2" ry="7.0" transform="rotate(-28.0 960.4 945.1)" opacity="1.00"/><ellipse cx="873.6" cy="1062.6" rx="5.3" ry="7.0" transform="rotate(100.6 873.6 1062.6)" opacity="1.00"/><ellipse cx="815.6" cy="949.0" rx="5.3" ry="7.0" transform="rotate(-154.8 815.6 949.0)" opacity="1.00"/><ellipse cx="896.2" cy="903.1" rx="5.3" ry="7.0" transform="rotate(-84.5 896.2 903.1)" opacity="1.00"/><ellipse cx="911.2" cy="906.2" rx="5.3" ry="7.0" transform="rotate(-73.6 911.2 906.2)" opacity="1.00"/><ellipse cx="822.3" cy="1027.3" rx="5.3" ry="7.0" transform="rotate(146.4 822.3 1027.3)" opacity="1.00"/><ellipse cx="824.6" cy="935.8" rx="5.3" ry="7.0" transform="rotate(-143.4 824.6 935.8)" opacity="1.00"/><ellipse cx="945.2" cy="1038.9" rx="5.3" ry="7.0" transform="rotate(44.5 945.2 1038.9)" opacity="1.00"/><ellipse cx="923.9" cy="912.9" rx="5.4" ry="7.0" transform="rotate(-63.2 923.9 912.9)" opacity="1.00"/><ellipse cx="963.7" cy="960.2" rx="5.4" ry="7.0" transform="rotate(-17.0 963.7 960.2)" opacity="1.00"/><ellipse cx="878.2" cy="905.5" rx="5.4" ry="7.0" transform="rotate(-97.5 878.2 905.5)" opacity="1.00"/><ellipse cx="851.7" cy="914.1" rx="5.4" ry="7.0" transform="rotate(-118.1 851.7 914.1)" opacity="1.00"/><ellipse cx="813.6" cy="963.0" rx="5.4" ry="7.0" transform="rotate(-164.9 813.6 963.0)" opacity="1.00"/><ellipse cx="817.1" cy="1012.6" rx="5.4" ry="7.0" transform="rotate(157.6 817.1 1012.6)" opacity="1.00"/><ellipse cx="861.7" cy="1055.1" rx="5.5" ry="7.0" transform="rotate(110.4 861.7 1055.1)" opacity="1.00"/><ellipse cx="898.5" cy="1059.3" rx="5.5" ry="7.0" transform="rotate(82.5 898.5 1059.3)" opacity="1.00"/><ellipse cx="953.2" cy="1024.1" rx="5.5" ry="7.0" transform="rotate(32.3 953.2 1024.1)" opacity="1.00"/><ellipse cx="964.6" cy="976.1" rx="5.5" ry="7.0" transform="rotate(-5.3 964.6 976.1)" opacity="1.00"/><ellipse cx="934.5" cy="922.4" rx="5.5" ry="7.0" transform="rotate(-52.9 934.5 922.4)" opacity="1.00"/><ellipse cx="922.7" cy="1051.2" rx="5.5" ry="7.0" transform="rotate(63.3 922.7 1051.2)" opacity="1.00"/><ellipse cx="963.1" cy="992.3" rx="5.5" ry="7.0" transform="rotate(6.9 963.1 992.3)" opacity="1.00"/><ellipse cx="959.3" cy="1008.4" rx="5.5" ry="7.0" transform="rotate(19.6 959.3 1008.4)" opacity="1.00"/><ellipse cx="814.8" cy="995.9" rx="5.5" ry="7.0" transform="rotate(170.2 814.8 995.9)" opacity="1.00"/><ellipse cx="850.7" cy="1045.9" rx="5.6" ry="7.0" transform="rotate(121.1 850.7 1045.9)" opacity="1.00"/><ellipse cx="942.7" cy="934.1" rx="5.6" ry="7.0" transform="rotate(-42.1 942.7 934.1)" opacity="1.00"/><ellipse cx="816.8" cy="976.5" rx="5.7" ry="7.0" transform="rotate(-174.7 816.8 976.5)" opacity="1.00"/><ellipse cx="885.7" cy="1054.1" rx="5.7" ry="7.0" transform="rotate(92.3 885.7 1054.1)" opacity="1.00"/><ellipse cx="839.7" cy="932.1" rx="5.7" ry="7.0" transform="rotate(-133.7 839.7 932.1)" opacity="1.00"/><ellipse cx="932.6" cy="1038.2" rx="5.7" ry="7.0" transform="rotate(51.3 932.6 1038.2)" opacity="1.00"/><ellipse cx="840.9" cy="1034.9" rx="5.7" ry="7.0" transform="rotate(132.6 840.9 1034.9)" opacity="1.00"/><ellipse cx="866.0" cy="916.9" rx="5.7" ry="7.0" transform="rotate(-108.7 866.0 916.9)" opacity="1.00"/><ellipse cx="890.3" cy="913.3" rx="5.8" ry="7.0" transform="rotate(-88.6 890.3 913.3)" opacity="1.00"/><ellipse cx="948.5" cy="947.5" rx="5.8" ry="7.0" transform="rotate(-30.7 948.5 947.5)" opacity="1.00"/><ellipse cx="827.5" cy="951.0" rx="5.8" ry="7.0" transform="rotate(-152.2 827.5 951.0)" opacity="1.00"/><ellipse cx="909.7" cy="1048.4" rx="5.8" ry="7.0" transform="rotate(72.0 909.7 1048.4)" opacity="1.00"/><ellipse cx="906.4" cy="917.4" rx="5.8" ry="7.0" transform="rotate(-74.8 906.4 917.4)" opacity="1.00"/><ellipse cx="832.9" cy="1021.9" rx="5.8" ry="7.0" transform="rotate(145.1 832.9 1021.9)" opacity="1.00"/><ellipse cx="853.6" cy="925.7" rx="5.9" ry="7.0" transform="rotate(-121.3 853.6 925.7)" opacity="1.00"/><ellipse cx="951.9" cy="962.1" rx="5.9" ry="7.0" transform="rotate(-18.4 951.9 962.1)" opacity="1.00"/><ellipse cx="940.8" cy="1023.9" rx="5.9" ry="7.0" transform="rotate(37.9 940.8 1023.9)" opacity="1.00"/><ellipse cx="873.4" cy="1047.2" rx="5.9" ry="7.0" transform="rotate(103.3 873.4 1047.2)" opacity="1.00"/><ellipse cx="827.2" cy="1006.7" rx="5.9" ry="7.0" transform="rotate(159.1 827.2 1006.7)" opacity="1.00"/><ellipse cx="918.7" cy="925.4" rx="5.9" ry="7.0" transform="rotate(-62.4 918.7 925.4)" opacity="1.00"/><ellipse cx="952.7" cy="977.5" rx="6.0" ry="7.0" transform="rotate(-5.1 952.7 977.5)" opacity="1.00"/><ellipse cx="824.7" cy="988.5" rx="6.0" ry="7.0" transform="rotate(175.2 824.7 988.5)" opacity="1.00"/><ellipse cx="947.0" cy="1008.8" rx="6.0" ry="7.0" transform="rotate(23.6 947.0 1008.8)" opacity="1.00"/><ellipse cx="951.1" cy="993.2" rx="6.0" ry="7.0" transform="rotate(9.1 951.1 993.2)" opacity="1.00"/><ellipse cx="827.7" cy="965.5" rx="6.0" ry="7.0" transform="rotate(-163.7 827.7 965.5)" opacity="1.00"/><ellipse cx="878.7" cy="921.6" rx="6.0" ry="7.0" transform="rotate(-99.0 878.7 921.6)" opacity="1.00"/><ellipse cx="839.7" cy="945.1" rx="6.0" ry="7.0" transform="rotate(-142.0 839.7 945.1)" opacity="1.00"/><ellipse cx="928.1" cy="936.1" rx="6.1" ry="7.0" transform="rotate(-50.0 928.1 936.1)" opacity="1.00"/><ellipse cx="861.9" cy="1038.4" rx="6.1" ry="7.0" transform="rotate(115.7 861.9 1038.4)" opacity="1.00"/><ellipse cx="919.6" cy="1036.0" rx="6.1" ry="7.0" transform="rotate(59.5 919.6 1036.0)" opacity="1.00"/><ellipse cx="896.8" cy="1043.8" rx="6.1" ry="7.0" transform="rotate(82.2 896.8 1043.8)" opacity="1.00"/><ellipse cx="851.6" cy="1027.5" rx="6.2" ry="7.0" transform="rotate(129.8 851.6 1027.5)" opacity="1.00"/><ellipse cx="934.6" cy="948.7" rx="6.2" ry="7.0" transform="rotate(-36.8 934.6 948.7)" opacity="1.00"/><ellipse cx="897.6" cy="926.9" rx="6.2" ry="7.0" transform="rotate(-80.9 897.6 926.9)" opacity="1.00"/><ellipse cx="855.1" cy="937.3" rx="6.2" ry="7.0" transform="rotate(-126.1 855.1 937.3)" opacity="1.00"/><ellipse cx="927.8" cy="1022.3" rx="6.2" ry="7.0" transform="rotate(44.8 927.8 1022.3)" opacity="1.00"/><ellipse cx="842.9" cy="1014.2" rx="6.3" ry="7.0" transform="rotate(145.7 842.9 1014.2)" opacity="1.00"/><ellipse cx="833.9" cy="977.5" rx="6.3" ry="7.0" transform="rotate(-174.0 833.9 977.5)" opacity="1.00"/><ellipse cx="884.1" cy="1037.4" rx="6.3" ry="7.0" transform="rotate(94.6 884.1 1037.4)" opacity="1.00"/><ellipse cx="836.6" cy="998.0" rx="6.3" ry="7.0" transform="rotate(164.0 836.6 998.0)" opacity="1.00"/><ellipse cx="938.4" cy="962.7" rx="6.3" ry="7.0" transform="rotate(-22.4 938.4 962.7)" opacity="1.00"/><ellipse cx="868.9" cy="934.3" rx="6.3" ry="7.0" transform="rotate(-111.8 868.9 934.3)" opacity="1.00"/><ellipse cx="906.5" cy="1032.0" rx="6.3" ry="7.0" transform="rotate(69.8 906.5 1032.0)" opacity="1.00"/><ellipse cx="934.0" cy="1007.7" rx="6.3" ry="7.0" transform="rotate(28.3 934.0 1007.7)" opacity="1.00"/><ellipse cx="841.7" cy="961.3" rx="6.3" ry="7.0" transform="rotate(-154.9 841.7 961.3)" opacity="1.00"/><ellipse cx="909.9" cy="936.2" rx="6.3" ry="7.0" transform="rotate(-65.5 909.9 936.2)" opacity="1.00"/><ellipse cx="939.5" cy="977.5" rx="6.4" ry="7.0" transform="rotate(-6.4 939.5 977.5)" opacity="1.00"/><ellipse cx="938.0" cy="992.7" rx="6.4" ry="7.0" transform="rotate(10.8 938.0 992.7)" opacity="1.00"/><ellipse cx="885.2" cy="933.3" rx="6.4" ry="7.0" transform="rotate(-93.8 885.2 933.3)" opacity="1.00"/><ellipse cx="872.1" cy="1028.9" rx="6.4" ry="7.0" transform="rotate(109.7 872.1 1028.9)" opacity="1.00"/><ellipse cx="852.2" cy="951.5" rx="6.4" ry="7.0" transform="rotate(-138.9 852.2 951.5)" opacity="1.00"/><ellipse cx="918.2" cy="947.9" rx="6.5" ry="7.0" transform="rotate(-49.9 918.2 947.9)" opacity="1.00"/><ellipse cx="861.1" cy="1018.1" rx="6.5" ry="7.0" transform="rotate(128.1 861.1 1018.1)" opacity="1.00"/><ellipse cx="914.5" cy="1018.9" rx="6.5" ry="7.0" transform="rotate(54.0 914.5 1018.9)" opacity="1.00"/><ellipse cx="844.6" cy="986.6" rx="6.5" ry="7.0" transform="rotate(175.6 844.6 986.6)" opacity="1.00"/><ellipse cx="893.4" cy="1026.0" rx="6.6" ry="7.0" transform="rotate(83.4 893.4 1026.0)" opacity="1.00"/><ellipse cx="851.7" cy="1004.3" rx="6.6" ry="7.0" transform="rotate(150.2 851.7 1004.3)" opacity="1.00"/><ellipse cx="923.1" cy="961.3" rx="6.6" ry="7.0" transform="rotate(-32.4 923.1 961.3)" opacity="1.00"/><ellipse cx="870.1" cy="947.5" rx="6.6" ry="7.0" transform="rotate(-117.3 870.1 947.5)" opacity="1.00"/><ellipse cx="898.2" cy="944.3" rx="6.6" ry="7.0" transform="rotate(-76.0 898.2 944.3)" opacity="1.00"/><ellipse cx="850.4" cy="971.8" rx="6.6" ry="7.0" transform="rotate(-163.4 850.4 971.8)" opacity="1.00"/><ellipse cx="920.4" cy="1004.8" rx="6.6" ry="7.0" transform="rotate(34.1 920.4 1004.8)" opacity="1.00"/><ellipse cx="924.9" cy="975.5" rx="6.7" ry="7.0" transform="rotate(-11.9 924.9 975.5)" opacity="1.00"/><ellipse cx="924.0" cy="990.2" rx="6.7" ry="7.0" transform="rotate(11.2 924.0 990.2)" opacity="1.00"/><ellipse cx="880.8" cy="1017.8" rx="6.7" ry="7.0" transform="rotate(102.5 880.8 1017.8)" opacity="1.00"/><ellipse cx="884.6" cy="948.5" rx="6.7" ry="7.0" transform="rotate(-96.4 884.6 948.5)" opacity="1.00"/><ellipse cx="863.2" cy="961.1" rx="6.7" ry="7.0" transform="rotate(-138.8 863.2 961.1)" opacity="1.00"/><ellipse cx="901.0" cy="1013.3" rx="6.7" ry="7.0" transform="rotate(67.5 901.0 1013.3)" opacity="1.00"/><ellipse cx="905.7" cy="957.2" rx="6.8" ry="7.0" transform="rotate(-56.6 905.7 957.2)" opacity="1.00"/><ellipse cx="858.6" cy="992.2" rx="6.8" ry="7.0" transform="rotate(163.2 858.6 992.2)" opacity="1.00"/><ellipse cx="869.1" cy="1006.8" rx="6.8" ry="7.0" transform="rotate(129.5 869.1 1006.8)" opacity="1.00"/><ellipse cx="862.9" cy="977.9" rx="6.8" ry="7.0" transform="rotate(-168.4 862.9 977.9)" opacity="1.00"/><ellipse cx="906.3" cy="999.6" rx="6.9" ry="7.0" transform="rotate(42.7 906.3 999.6)" opacity="1.00"/><ellipse cx="909.1" cy="971.1" rx="6.9" ry="7.0" transform="rotate(-30.5 909.1 971.1)" opacity="1.00"/><ellipse cx="876.9" cy="964.4" rx="6.9" ry="7.0" transform="rotate(-121.7 876.9 964.4)" opacity="1.00"/><ellipse cx="887.7" cy="1005.2" rx="6.9" ry="7.0" transform="rotate(92.2 887.7 1005.2)" opacity="1.00"/><ellipse cx="909.2" cy="985.4" rx="6.9" ry="7.0" transform="rotate(6.1 909.2 985.4)" opacity="1.00"/><ellipse cx="891.5" cy="962.9" rx="6.9" ry="7.0" transform="rotate(-81.6 891.5 962.9)" opacity="1.00"/><ellipse cx="874.8" cy="993.9" rx="6.9" ry="7.0" transform="rotate(141.8 874.8 993.9)" opacity="1.00"/><ellipse cx="877.8" cy="979.8" rx="7.0" ry="7.0" transform="rotate(-162.2 877.8 979.8)" opacity="1.00"/><ellipse cx="892.1" cy="991.6" rx="7.0" ry="7.0" transform="rotate(67.0 892.1 991.6)" opacity="1.00"/><ellipse cx="893.6" cy="977.4" rx="7.0" ry="7.0" transform="rotate(-48.9 893.6 977.4)" opacity="1.00"/></g>
<circle cx="888.5" cy="983.2" r="124.5" fill="url(#gSsh)"/><ellipse cx="1218" cy="1014" rx="248" ry="294" transform="rotate(22.7 1218 1014)" fill="url(#gDome)"/>
<g fill="url(#gDome2)"><circle cx="1240.2" cy="729.6" r="4.5"/><circle cx="1252.2" cy="729.4" r="4.5"/><circle cx="1264.1" cy="729.8" r="4.5"/><circle cx="1275.9" cy="730.9" r="4.5"/><circle cx="1287.6" cy="732.7" r="4.5"/><circle cx="1299.1" cy="735.1" r="4.5"/><circle cx="1310.5" cy="738.1" r="4.5"/><circle cx="1321.6" cy="741.8" r="4.5"/><circle cx="1332.5" cy="746.1" r="4.5"/><circle cx="1343.2" cy="751.0" r="4.5"/><circle cx="1353.5" cy="756.5" r="4.5"/><circle cx="1363.6" cy="762.5" r="4.5"/><circle cx="1373.3" cy="769.2" r="4.5"/><circle cx="1382.7" cy="776.4" r="4.5"/><circle cx="1391.7" cy="784.2" r="4.5"/><circle cx="1400.3" cy="792.5" r="4.5"/><circle cx="1408.5" cy="801.3" r="4.5"/><circle cx="1416.2" cy="810.5" r="4.5"/><circle cx="1423.5" cy="820.3" r="4.5"/><circle cx="1430.3" cy="830.5" r="4.5"/><circle cx="1436.7" cy="841.1" r="4.5"/><circle cx="1442.5" cy="852.1" r="4.5"/><circle cx="1447.9" cy="863.4" r="4.5"/><circle cx="1452.7" cy="875.2" r="4.5"/><circle cx="1457.0" cy="887.2" r="4.5"/><circle cx="1460.7" cy="899.5" r="4.5"/><circle cx="1463.9" cy="912.1" r="4.5"/><circle cx="1466.6" cy="924.9" r="4.5"/><circle cx="1468.6" cy="937.9" r="4.5"/><circle cx="1470.1" cy="951.1" r="4.5"/><circle cx="1471.0" cy="964.5" r="4.5"/><circle cx="1471.4" cy="977.9" r="4.5"/><circle cx="1471.1" cy="991.4" r="4.5"/><circle cx="1470.3" cy="1005.0" r="4.5"/><circle cx="1469.0" cy="1018.6" r="4.5"/><circle cx="1467.0" cy="1032.2" r="4.5"/><circle cx="1464.5" cy="1045.8" r="4.5"/><circle cx="1461.4" cy="1059.3" r="4.5"/><circle cx="1457.8" cy="1072.6" r="4.5"/><circle cx="1453.6" cy="1085.9" r="4.5"/><circle cx="1448.9" cy="1099.0" r="4.5"/><circle cx="1443.6" cy="1111.8" r="4.5"/><circle cx="1437.9" cy="1124.5" r="4.5"/><circle cx="1431.6" cy="1136.9" r="4.5"/><circle cx="1424.9" cy="1149.0" r="4.5"/><circle cx="1417.7" cy="1160.9" r="4.5"/><circle cx="1410.0" cy="1172.3" r="4.5"/><circle cx="1401.9" cy="1183.5" r="4.5"/><circle cx="1393.4" cy="1194.2" r="4.5"/><circle cx="1384.5" cy="1204.5" r="4.5"/><circle cx="1375.2" cy="1214.4" r="4.5"/><circle cx="1365.5" cy="1223.8" r="4.5"/><circle cx="1355.5" cy="1232.8" r="4.5"/><circle cx="1345.2" cy="1241.2" r="4.5"/><circle cx="1334.6" cy="1249.2" r="4.5"/><circle cx="1323.8" cy="1256.6" r="4.5"/><circle cx="1312.7" cy="1263.4" r="4.5"/><circle cx="1301.4" cy="1269.7" r="4.5"/><circle cx="1289.9" cy="1275.4" r="4.5"/><circle cx="1278.2" cy="1280.4" r="4.5"/><circle cx="1266.4" cy="1284.9" r="4.5"/><circle cx="1254.5" cy="1288.8" r="4.5"/><circle cx="1242.5" cy="1292.0" r="4.5"/><circle cx="1230.5" cy="1294.6" r="4.5"/><circle cx="1218.5" cy="1296.6" r="4.5"/><circle cx="1206.4" cy="1297.9" r="4.5"/><circle cx="1194.4" cy="1298.5" r="4.5"/><circle cx="1182.4" cy="1298.5" r="4.5"/><circle cx="1170.5" cy="1297.9" r="4.5"/><circle cx="1158.7" cy="1296.6" r="4.5"/></g>
<ellipse cx="1201" cy="1009" rx="234" ry="287" transform="rotate(22.7 1201 1009)" fill="url(#gFace)"/>
<path d="M1310.8 1063.8L1362.8 1080.6L1363.2 1079.4L1312.0 1060.4ZM1308.7 1068.5L1365.8 1089.7L1366.4 1088.3L1310.0 1065.1ZM1306.1 1073.8L1361.5 1097.5L1362.2 1095.9L1307.4 1070.7ZM1303.3 1078.9L1357.0 1105.9L1357.7 1104.6L1304.7 1076.1ZM1300.7 1083.5L1352.5 1110.3L1353.2 1109.2L1302.4 1080.3ZM1297.5 1088.4L1348.7 1121.5L1349.6 1120.1L1299.1 1085.9ZM1294.1 1093.3L1336.9 1122.7L1337.8 1121.5L1296.4 1090.1ZM1291.3 1097.2L1346.3 1136.9L1347.2 1135.6L1293.3 1094.5ZM1287.9 1101.5L1328.8 1136.0L1329.8 1134.9L1290.2 1098.9ZM1283.9 1106.3L1333.6 1151.0L1334.8 1149.7L1286.1 1103.9ZM1280.5 1109.9L1322.4 1151.9L1323.5 1150.9L1283.2 1107.4ZM1276.3 1114.3L1322.8 1166.8L1323.9 1165.9L1279.0 1112.0ZM1272.1 1118.4L1319.9 1173.4L1320.9 1172.6L1275.1 1115.9ZM1268.1 1121.9L1303.2 1169.1L1304.6 1168.1L1270.9 1119.9ZM1264.6 1124.9L1306.7 1185.0L1307.7 1184.3L1267.2 1123.1ZM1260.0 1128.5L1293.5 1178.4L1295.0 1177.4L1263.2 1126.4ZM1255.2 1131.9L1287.6 1184.4L1288.7 1183.8L1258.6 1129.9ZM1251.0 1134.8L1278.4 1183.4L1279.8 1182.6L1253.7 1133.3ZM1246.3 1137.7L1272.6 1187.2L1273.9 1186.5L1249.4 1136.1ZM1241.2 1140.5L1272.2 1208.2L1273.5 1207.7L1244.6 1139.1ZM1236.9 1142.8L1258.6 1194.4L1259.9 1193.9L1240.3 1141.4ZM1232.2 1145.0L1257.0 1209.0L1258.7 1208.3L1235.9 1143.7ZM1227.6 1147.0L1252.3 1220.4L1253.4 1220.0L1231.2 1145.8ZM1221.8 1149.2L1241.6 1220.9L1242.9 1220.6L1225.5 1148.3ZM1217.8 1150.7L1238.7 1225.1L1240.1 1224.8L1220.9 1149.9ZM1212.7 1152.3L1227.0 1212.2L1228.6 1211.9L1215.9 1151.5ZM1206.9 1153.8L1220.0 1221.2L1221.6 1220.9L1210.2 1153.2ZM1201.9 1154.8L1212.1 1221.9L1213.8 1221.7L1205.6 1154.3ZM1196.4 1155.8L1205.4 1240.0L1207.2 1239.8L1200.2 1155.4ZM1191.8 1156.5L1198.0 1228.8L1199.2 1228.7L1195.5 1156.2ZM1186.5 1157.0L1191.3 1229.0L1192.7 1228.9L1189.8 1156.9ZM1181.0 1157.4L1182.9 1223.8L1184.4 1223.8L1184.7 1157.3ZM1176.1 1157.5L1177.2 1240.0L1178.8 1240.0L1179.4 1157.5ZM1171.6 1157.4L1168.3 1234.5L1170.0 1234.6L1174.8 1157.5ZM1166.1 1157.1L1163.9 1222.8L1165.3 1222.8L1169.7 1157.3ZM1160.6 1156.5L1153.4 1229.3L1155.1 1229.5L1164.2 1156.9ZM1155.4 1155.8L1148.5 1223.3L1150.1 1223.5L1158.6 1156.2ZM1151.0 1155.0L1141.8 1218.7L1143.6 1219.0L1154.1 1155.5ZM1145.3 1153.8L1134.7 1223.2L1136.3 1223.4L1148.8 1154.4ZM1140.7 1152.5L1124.2 1233.6L1125.5 1233.9L1144.5 1153.3ZM1136.3 1151.2L1118.8 1233.1L1120.1 1233.4L1139.9 1152.0ZM1130.9 1149.2L1115.7 1211.6L1117.3 1212.0L1134.4 1150.1ZM1126.7 1147.5L1105.1 1228.0L1106.7 1228.5L1130.1 1148.5ZM1121.8 1145.2L1096.3 1224.4L1097.5 1224.8L1125.0 1146.3ZM1117.0 1142.8L1093.6 1213.9L1094.9 1214.4L1120.1 1143.9ZM1112.9 1140.6L1091.8 1202.1L1093.2 1202.6L1116.3 1141.8ZM1108.7 1138.1L1081.1 1212.4L1082.3 1212.9L1112.1 1139.4ZM1104.1 1135.0L1074.1 1208.6L1075.4 1209.2L1107.8 1136.6ZM1100.4 1132.3L1070.6 1198.8L1071.8 1199.4L1103.7 1133.8ZM1096.1 1128.8L1067.0 1185.9L1068.2 1186.5L1098.9 1130.2ZM1092.2 1125.5L1058.3 1188.6L1059.4 1189.2L1095.6 1127.4ZM1088.1 1121.5L1052.6 1181.8L1053.7 1182.5L1091.2 1123.5ZM1085.2 1118.6L1055.3 1168.1L1056.8 1169.1L1088.1 1120.4ZM1081.7 1114.8L1041.7 1177.8L1042.8 1178.5L1084.5 1116.6ZM1077.7 1110.0L1042.2 1161.3L1043.5 1162.3L1080.5 1112.1ZM1074.6 1106.0L1028.5 1166.8L1029.9 1167.8L1077.4 1108.1ZM1072.0 1102.2L1029.2 1154.9L1030.2 1155.7L1074.4 1104.1ZM1069.1 1097.8L1027.3 1146.8L1028.6 1148.0L1071.6 1100.0ZM1066.3 1093.1L1026.8 1137.3L1028.0 1138.3L1068.6 1095.2ZM1063.7 1088.5L1025.4 1129.7L1026.3 1130.5L1066.0 1090.7ZM1061.5 1084.1L1022.7 1123.4L1023.6 1124.3L1063.9 1086.5ZM1059.2 1079.0L1022.8 1113.8L1023.6 1114.7L1061.5 1081.5ZM1057.2 1074.2L1006.1 1116.3L1006.8 1117.3L1059.6 1077.1ZM1055.4 1069.2L1008.5 1108.0L1009.4 1109.1L1057.6 1072.0ZM1053.6 1063.6L1007.0 1096.1L1007.9 1097.5L1055.7 1066.8ZM1052.0 1058.0L1007.4 1089.2L1008.3 1090.7L1054.1 1061.3ZM1050.8 1052.8L1012.1 1076.5L1012.9 1077.9L1052.7 1056.0ZM1049.8 1047.5L1000.6 1075.9L1001.3 1077.2L1051.4 1050.4ZM1048.8 1042.1L993.3 1070.0L993.8 1071.1L1050.5 1045.6ZM1048.3 1036.8L1001.6 1056.3L1002.2 1057.9L1049.6 1040.0ZM1047.9 1031.8L999.3 1050.5L999.9 1052.1L1048.9 1034.7ZM1047.6 1026.3L1003.6 1040.8L1003.9 1042.0L1048.5 1029.2ZM1047.5 1020.9L1002.8 1032.9L1003.2 1034.5L1048.2 1024.0ZM1047.5 1015.6L999.2 1026.0L999.5 1027.7L1048.1 1018.6ZM1047.9 1009.3L1007.5 1014.4L1007.7 1016.1L1048.2 1012.5ZM1048.3 1003.8L1008.0 1008.8L1008.1 1010.1L1048.6 1006.9ZM1048.9 998.7L1010.2 1001.5L1010.2 1003.0L1049.1 1002.1ZM1049.8 993.1L1011.9 993.5L1011.8 995.0L1049.8 996.5ZM1051.1 986.9L1012.1 984.4L1012.0 986.0L1050.8 990.3ZM1052.3 981.7L1007.5 976.3L1007.2 978.0L1051.9 984.7ZM1053.8 975.8L1002.6 966.8L1002.3 968.0L1053.1 979.5ZM1055.3 971.5L1005.6 956.1L1005.2 957.4L1054.3 974.6ZM1057.2 965.9L1022.1 953.8L1021.6 955.2L1055.9 969.3ZM1059.1 960.6L1015.1 943.9L1014.6 945.2L1057.8 963.9ZM1061.7 954.8L1021.2 932.9L1020.5 934.1L1059.8 958.2ZM1064.0 949.9L1020.3 923.6L1019.5 925.0L1061.9 953.2ZM1065.9 945.8L1023.9 919.1L1023.0 920.4L1064.2 948.5ZM1068.6 941.0L1034.6 916.4L1033.6 917.7L1066.5 943.7ZM1071.5 935.9L1040.8 911.6L1039.8 912.8L1069.4 938.4ZM1074.8 930.8L1044.9 900.5L1043.9 901.5L1072.6 932.9ZM1077.7 926.6L1047.7 893.8L1046.7 894.7L1075.3 928.7ZM1080.9 922.3L1050.3 885.8L1049.3 886.6L1078.1 924.5ZM1084.2 918.0L1050.7 870.1L1049.4 871.0L1081.6 919.8ZM1087.9 913.6L1062.6 875.9L1061.5 876.7L1085.0 915.4ZM1092.0 909.1L1066.9 867.3L1065.5 868.1L1088.9 910.9ZM1095.6 905.5L1075.1 866.7L1074.0 867.2L1092.3 907.1ZM1099.5 901.6L1073.8 845.8L1072.5 846.3L1096.4 903.0ZM1103.2 898.2L1081.1 841.2L1079.6 841.7L1100.3 899.3ZM1107.7 894.4L1085.7 836.3L1084.5 836.7L1104.8 895.4ZM1112.5 890.8L1092.6 825.5L1091.0 825.9L1108.8 891.9ZM1116.6 887.7L1102.8 840.0L1101.4 840.4L1113.6 888.5ZM1121.0 884.8L1109.7 835.2L1108.5 835.4L1117.8 885.4ZM1126.0 881.7L1115.3 827.3L1114.0 827.5L1122.5 882.3ZM1130.1 879.5L1121.2 813.3L1119.4 813.5L1126.3 879.9ZM1135.3 876.7L1127.8 813.2L1126.3 813.3L1131.5 877.1ZM1139.8 874.6L1135.4 821.1L1133.8 821.2L1135.8 874.9ZM1145.4 872.2L1142.9 801.5L1141.4 801.5L1141.4 872.3ZM1150.1 870.2L1148.9 811.2L1147.5 811.2L1146.8 870.2ZM1155.1 868.5L1156.8 809.2L1155.2 809.2L1151.7 868.4ZM1160.6 867.0L1163.6 807.2L1162.0 807.1L1156.6 866.7ZM1164.4 865.8L1168.8 791.5L1167.4 791.4L1160.9 865.6ZM1169.8 864.6L1176.7 791.2L1174.9 791.0L1166.4 864.3ZM1175.1 863.6L1182.5 802.0L1180.8 801.8L1171.9 863.2ZM1180.6 862.9L1190.6 799.4L1189.3 799.2L1177.1 862.3ZM1185.4 862.4L1201.9 783.3L1200.2 783.0L1182.3 861.7ZM1190.4 862.1L1204.3 798.7L1202.9 798.3L1186.8 861.3ZM1195.5 862.0L1213.1 790.5L1211.4 790.0L1192.1 861.1ZM1200.9 862.0L1223.8 780.4L1222.5 780.0L1197.6 861.1ZM1205.7 862.3L1229.2 783.7L1227.5 783.2L1202.4 861.3ZM1210.6 862.7L1236.9 786.9L1235.2 786.3L1207.6 861.7ZM1216.5 863.5L1243.2 785.8L1241.7 785.3L1213.4 862.4ZM1220.8 864.3L1250.9 782.2L1249.4 781.7L1217.7 863.1ZM1226.0 865.5L1253.0 796.4L1251.8 795.9L1222.7 864.1ZM1231.0 866.8L1266.5 784.8L1265.0 784.1L1227.7 865.3ZM1235.5 868.2L1274.7 783.2L1273.3 782.6L1232.3 866.7ZM1240.8 870.0L1278.1 795.3L1276.6 794.5L1238.0 868.6ZM1245.4 871.9L1289.0 788.0L1287.5 787.2L1242.1 870.2ZM1249.6 873.9L1283.4 814.5L1282.3 813.8L1246.9 872.2ZM1254.7 876.4L1301.5 797.4L1300.2 796.6L1252.0 874.7ZM1259.3 879.0L1306.0 807.0L1305.0 806.3L1256.5 877.1ZM1263.4 881.4L1305.8 815.5L1304.6 814.7L1260.7 879.6ZM1267.1 883.9L1307.0 824.8L1305.9 824.1L1264.4 882.1ZM1272.0 887.5L1318.6 824.7L1317.5 823.9L1269.6 885.7ZM1275.7 890.5L1327.8 823.9L1326.8 823.1L1272.8 888.2ZM1279.6 893.9L1331.1 832.4L1329.9 831.3L1277.1 891.7ZM1283.5 897.6L1330.7 844.5L1329.5 843.4L1281.3 895.5ZM1286.8 900.9L1344.5 837.9L1343.5 836.9L1284.1 898.3ZM1290.9 905.4L1353.3 841.2L1352.3 840.2L1288.1 902.6ZM1294.0 909.1L1355.1 849.8L1354.0 848.6L1291.7 906.6ZM1297.0 912.9L1361.7 850.8L1360.7 849.8L1294.8 910.7ZM1299.7 916.8L1351.6 871.9L1350.6 870.8L1297.6 914.3ZM1303.2 922.1L1356.9 878.3L1355.9 877.1L1300.9 919.2ZM1305.5 926.1L1366.8 878.5L1365.9 877.3L1303.4 923.3ZM1308.1 930.9L1366.3 888.9L1365.3 887.5L1306.4 928.4ZM1310.6 935.7L1379.6 886.8L1378.7 885.6L1308.5 932.7ZM1312.6 940.3L1381.9 894.9L1381.1 893.5L1310.9 937.6ZM1314.7 945.2L1377.6 904.8L1376.9 903.6L1312.8 942.1ZM1316.6 950.3L1390.1 906.2L1389.4 905.1L1314.7 947.0ZM1318.0 954.9L1392.1 914.6L1391.5 913.4L1316.5 952.2ZM1319.5 960.3L1382.1 929.8L1381.5 928.6L1318.2 957.5ZM1320.8 965.8L1386.6 937.3L1385.9 935.7L1319.6 962.9ZM1322.0 971.0L1387.3 943.1L1386.8 941.7L1320.6 967.8ZM1322.9 977.0L1384.1 954.2L1383.7 953.0L1321.8 973.9ZM1323.6 982.5L1395.4 960.6L1395.1 959.3L1322.6 979.3ZM1324.0 987.0L1402.0 963.4L1401.6 962.0L1323.1 983.8ZM1324.3 992.5L1397.8 975.4L1397.4 973.7L1323.6 989.0ZM1324.5 998.9L1387.1 985.3L1386.7 983.6L1323.8 995.8ZM1324.4 1004.1L1391.6 992.4L1391.4 991.1L1323.9 1000.9ZM1324.1 1008.8L1400.0 1000.5L1399.9 999.0L1323.8 1005.7ZM1323.6 1015.3L1380.0 1011.0L1379.9 1009.4L1323.4 1012.2ZM1323.0 1020.3L1392.3 1018.2L1392.3 1016.6L1323.0 1016.7ZM1322.2 1026.0L1392.9 1025.8L1392.9 1024.2L1322.2 1022.3ZM1321.1 1031.5L1381.0 1034.9L1381.1 1033.3L1321.3 1028.2ZM1319.9 1036.6L1391.3 1044.1L1391.5 1042.6L1320.3 1033.5ZM1318.4 1042.5L1385.5 1053.2L1385.7 1052.0L1319.0 1039.2ZM1316.6 1048.3L1370.8 1059.7L1371.1 1058.3L1317.4 1045.0ZM1315.2 1052.6L1378.7 1068.8L1379.1 1067.4L1316.0 1049.6ZM1313.1 1058.3L1382.3 1079.0L1382.8 1077.3L1314.3 1054.5Z" fill="#AB6C64"/>
<path d="M1407.8 1097.3L1312.7 1064.0L1311.6 1067.0L1405.4 1103.8ZM1399.5 1115.6L1307.6 1074.9L1306.4 1077.5L1396.7 1121.6ZM1394.1 1126.2L1304.9 1079.9L1303.6 1082.4L1391.2 1131.5ZM1372.3 1161.7L1294.1 1097.0L1291.8 1099.7L1368.4 1166.4ZM1360.3 1177.7L1287.1 1105.9L1284.8 1108.2L1355.7 1182.2ZM1354.4 1184.8L1282.5 1111.0L1280.5 1112.9L1349.3 1189.6ZM1347.0 1193.1L1277.0 1116.7L1274.8 1118.7L1342.6 1196.9ZM1332.7 1207.8L1270.3 1123.1L1267.9 1124.8L1327.9 1211.2ZM1318.0 1221.0L1262.3 1129.7L1259.3 1131.4L1312.8 1224.1ZM1311.9 1226.1L1258.9 1132.2L1256.3 1133.6L1305.8 1229.4ZM1302.6 1233.0L1252.0 1136.8L1249.4 1138.2L1297.1 1235.8ZM1287.8 1243.1L1243.9 1141.7L1240.8 1143.0L1282.1 1245.4ZM1270.8 1252.8L1232.2 1147.5L1229.2 1148.6L1265.3 1254.8ZM1253.1 1261.4L1222.1 1151.6L1218.8 1152.5L1247.0 1263.0ZM1236.0 1268.1L1211.6 1154.9L1208.5 1155.5L1229.4 1269.4ZM1219.6 1273.1L1204.0 1156.7L1200.8 1157.1L1213.0 1273.9ZM1202.3 1276.8L1193.3 1158.5L1190.0 1158.7L1196.2 1277.2ZM1175.5 1279.7L1175.4 1159.5L1172.4 1159.5L1169.0 1279.6ZM1167.2 1279.9L1170.8 1159.4L1167.9 1159.2L1161.4 1279.6ZM1157.4 1279.7L1167.2 1159.2L1164.0 1158.9L1151.5 1279.2ZM1125.1 1275.2L1145.1 1155.5L1141.9 1155.0L1119.4 1274.2ZM1093.5 1265.0L1126.0 1148.9L1123.0 1148.1L1087.7 1263.3ZM1085.1 1261.1L1120.4 1146.3L1117.6 1145.4L1079.4 1259.3ZM1078.2 1257.5L1116.2 1144.1L1113.4 1143.2L1071.8 1255.2ZM1070.3 1253.0L1112.5 1142.0L1109.5 1140.8L1064.7 1250.8ZM1064.1 1249.0L1107.4 1138.8L1104.5 1137.7L1058.2 1246.6ZM1042.6 1232.4L1095.4 1130.0L1092.8 1128.6L1037.2 1229.5ZM1031.2 1221.2L1088.4 1123.7L1086.0 1122.2L1025.6 1217.8ZM1024.7 1214.0L1085.3 1120.5L1082.5 1118.6L1019.3 1210.4ZM1019.4 1207.3L1080.3 1115.0L1077.9 1113.3L1013.7 1203.4ZM1000.1 1178.4L1068.1 1098.2L1065.7 1096.2L995.2 1174.1ZM995.2 1169.4L1065.6 1094.0L1063.1 1091.6L991.0 1165.4ZM988.1 1153.4L1060.3 1083.9L1058.2 1081.6L983.9 1148.9ZM981.7 1135.6L1055.9 1073.4L1053.9 1070.9L977.5 1130.5ZM976.4 1117.8L1052.7 1063.9L1050.9 1061.3L973.1 1112.9ZM974.2 1107.5L1051.1 1058.3L1049.4 1055.5L970.9 1102.2ZM972.4 1098.2L1049.7 1052.1L1048.1 1049.2L969.5 1093.2ZM971.1 1090.4L1049.2 1050.0L1047.8 1047.2L968.4 1084.9ZM969.0 1070.5L1047.3 1038.2L1046.2 1035.3L966.8 1064.9ZM968.4 1040.5L1046.2 1019.6L1045.5 1016.9L966.8 1034.0ZM968.7 1030.9L1046.3 1014.6L1045.7 1011.5L967.5 1024.7ZM970.5 1010.0L1046.9 1003.7L1046.7 1000.7L970.1 1003.6ZM971.9 999.0L1047.3 999.6L1047.4 996.0L972.0 993.1ZM973.4 990.1L1048.0 994.2L1048.3 990.9L973.9 983.5ZM975.6 978.9L1049.0 988.6L1049.5 985.0L976.5 972.8ZM977.5 970.3L1049.8 984.1L1050.5 981.0L978.8 964.3ZM986.5 939.7L1054.5 967.1L1055.8 963.9L988.8 934.2ZM998.1 910.3L1061.2 950.0L1062.9 947.5L1001.9 904.5ZM1002.8 900.6L1064.8 942.8L1066.6 940.2L1006.8 895.0ZM1007.4 891.3L1065.7 940.8L1067.9 938.3L1011.8 886.3ZM1016.9 874.5L1071.3 931.2L1073.4 929.3L1021.5 870.4ZM1022.7 865.4L1074.5 926.3L1076.7 924.6L1027.5 861.5ZM1029.2 855.7L1078.6 920.5L1081.1 918.7L1034.3 852.0ZM1035.1 847.5L1082.1 915.9L1084.9 914.0L1040.8 843.8ZM1041.2 839.6L1086.8 910.3L1089.7 908.6L1047.1 836.0ZM1047.9 831.6L1089.6 907.3L1092.2 905.9L1053.5 828.7ZM1060.6 817.7L1096.4 900.2L1099.4 899.0L1066.1 815.4ZM1091.3 790.0L1114.3 885.4L1117.8 884.6L1097.6 788.5ZM1098.8 784.3L1120.4 881.5L1123.2 880.9L1105.4 783.0ZM1114.6 773.8L1129.2 876.2L1132.7 875.7L1120.5 773.1ZM1123.0 768.5L1132.0 874.6L1135.5 874.4L1129.8 768.0ZM1131.3 764.0L1137.2 872.1L1140.4 872.0L1138.0 763.7ZM1139.4 760.0L1141.8 870.1L1145.0 870.1L1145.7 759.9ZM1147.6 756.2L1147.6 867.7L1151.2 867.7L1154.1 756.3ZM1157.2 752.4L1154.7 865.4L1157.8 865.5L1163.2 752.6ZM1165.4 749.4L1157.8 864.4L1161.2 864.6L1171.3 749.8ZM1174.5 746.5L1165.3 862.5L1168.6 862.8L1180.4 747.0ZM1208.8 739.1L1185.4 859.4L1188.8 860.1L1214.9 740.3ZM1235.4 737.3L1201.9 859.3L1204.7 860.1L1241.7 739.2ZM1243.7 737.5L1205.3 859.5L1208.1 860.4L1249.8 739.5ZM1252.0 738.1L1211.6 860.2L1214.4 861.2L1258.4 740.3ZM1260.2 739.0L1214.2 860.5L1217.2 861.7L1265.9 741.2ZM1269.1 740.5L1221.7 861.9L1224.7 863.1L1274.7 742.7ZM1294.0 746.8L1236.9 866.1L1239.8 867.6L1299.6 749.6ZM1324.4 760.1L1256.2 874.7L1258.6 876.2L1329.7 763.3ZM1332.0 764.4L1260.0 876.9L1262.5 878.6L1337.6 768.1ZM1338.7 768.7L1262.7 878.5L1265.4 880.4L1344.3 772.7ZM1353.0 779.3L1271.7 884.8L1274.0 886.6L1358.3 783.5ZM1371.6 796.9L1285.0 896.4L1287.3 898.4L1376.7 801.4ZM1383.0 810.1L1291.6 903.5L1293.7 905.6L1387.6 814.7ZM1398.1 831.8L1300.5 915.0L1302.7 917.6L1402.0 836.5ZM1413.8 863.4L1312.0 935.2L1313.6 937.6L1417.8 869.2ZM1417.5 872.7L1314.3 940.4L1315.9 942.9L1420.9 878.1ZM1420.5 881.4L1315.9 944.4L1317.5 947.2L1423.9 887.2ZM1423.4 890.9L1317.8 949.5L1319.2 952.1L1426.7 897.0ZM1425.6 899.4L1319.5 954.9L1320.8 957.6L1428.6 905.3ZM1429.9 919.5L1322.1 964.7L1323.3 967.7L1432.3 925.6ZM1433.2 948.5L1325.0 982.3L1325.9 985.6L1435.2 954.9ZM1433.8 958.0L1325.4 986.3L1326.2 989.4L1435.3 963.9ZM1434.0 967.7L1325.7 991.5L1326.4 994.8L1435.3 974.0ZM1433.8 977.0L1325.9 998.5L1326.4 1001.3L1435.0 983.4ZM1432.6 997.7L1325.5 1010.5L1325.8 1013.8L1433.3 1004.6ZM1430.2 1018.3L1324.5 1020.7L1324.5 1023.8L1430.2 1024.2ZM1428.3 1028.6L1323.5 1027.4L1323.4 1030.5L1428.2 1034.9ZM1426.3 1039.1L1322.9 1030.8L1322.6 1033.8L1425.7 1045.3ZM1424.0 1048.3L1321.5 1037.0L1321.2 1039.9L1423.2 1054.8ZM1421.4 1058.4L1320.7 1040.6L1320.0 1044.1L1420.3 1064.5ZM1415.2 1077.9L1316.5 1053.9L1315.6 1057.4L1413.7 1083.7ZM1411.2 1088.8L1314.9 1058.5L1313.8 1061.8L1409.3 1094.6Z" fill="#B8776F"/>
<path d="M1403.8 1106.4L1310.6 1068.6L1309.3 1071.8L1401.2 1112.5ZM1389.4 1134.6L1302.4 1084.3L1300.9 1086.9L1386.3 1139.8ZM1383.5 1144.5L1298.5 1090.5L1296.8 1093.1L1379.9 1150.1ZM1379.0 1151.7L1296.2 1093.9L1294.2 1096.7L1375.3 1156.8ZM1367.0 1169.0L1290.8 1101.4L1288.5 1103.9L1362.6 1173.9ZM1340.2 1200.4L1275.6 1118.2L1273.1 1120.1L1335.5 1204.0ZM1326.3 1213.8L1265.8 1126.8L1263.4 1128.5L1320.6 1217.6ZM1294.3 1238.8L1248.5 1139.1L1245.7 1140.3L1289.0 1241.1ZM1278.9 1248.4L1237.0 1145.3L1234.1 1146.4L1272.9 1250.7ZM1262.1 1257.3L1227.9 1149.4L1224.5 1150.4L1255.7 1259.3ZM1245.2 1264.7L1218.8 1152.7L1215.6 1153.4L1238.8 1266.1ZM1228.0 1270.6L1207.3 1155.9L1203.9 1156.5L1222.1 1271.6ZM1211.0 1275.1L1199.8 1157.5L1196.5 1157.8L1204.9 1275.6ZM1193.6 1278.2L1188.8 1159.0L1185.3 1159.1L1187.6 1278.3ZM1183.5 1279.2L1182.4 1159.4L1179.2 1159.4L1177.5 1279.2ZM1149.7 1279.1L1160.0 1158.4L1157.2 1158.1L1143.2 1278.5ZM1141.5 1278.2L1154.9 1157.6L1151.3 1157.2L1135.1 1277.4ZM1132.7 1276.9L1151.9 1157.1L1148.4 1156.5L1126.5 1275.8ZM1116.0 1273.0L1141.4 1154.5L1137.9 1153.7L1110.0 1271.6ZM1107.9 1270.4L1134.4 1152.3L1131.5 1151.6L1102.1 1269.1ZM1100.3 1267.8L1132.4 1151.6L1129.6 1150.8L1094.2 1266.0ZM1056.3 1243.5L1103.5 1136.2L1100.6 1134.9L1050.9 1241.1ZM1049.2 1238.0L1100.0 1133.6L1097.4 1132.3L1043.5 1235.1ZM1037.2 1227.4L1091.4 1126.4L1088.8 1125.0L1032.1 1224.5ZM1013.7 1200.0L1077.8 1111.9L1074.9 1109.8L1008.8 1196.3ZM1008.7 1192.7L1074.9 1108.2L1072.2 1106.1L1003.9 1188.9ZM1004.1 1185.5L1070.7 1102.2L1068.2 1100.1L999.6 1181.8ZM991.6 1161.8L1063.5 1090.4L1061.4 1088.2L987.5 1157.5ZM985.1 1145.5L1058.6 1080.2L1056.6 1077.9L980.7 1140.4ZM979.1 1127.5L1054.6 1069.5L1052.4 1066.6L975.5 1122.7ZM969.8 1079.2L1048.2 1044.5L1046.9 1041.3L967.2 1073.2ZM968.5 1060.5L1046.8 1033.2L1045.8 1030.1L966.4 1054.2ZM968.1 1050.5L1046.4 1028.5L1045.6 1025.8L966.6 1044.6ZM969.5 1019.1L1046.3 1010.1L1046.1 1007.3L968.9 1012.5ZM980.1 960.5L1051.3 977.9L1052.2 974.8L981.9 953.7ZM983.3 949.9L1053.6 970.1L1054.6 966.9L985.3 943.4ZM989.8 930.3L1056.4 961.7L1057.7 959.1L992.9 924.2ZM994.0 920.1L1059.2 954.5L1060.9 951.5L996.9 914.7ZM1012.1 882.9L1068.9 935.2L1071.2 932.8L1016.3 878.5ZM1054.1 824.6L1092.4 904.2L1095.2 902.9L1059.6 822.1ZM1067.7 810.6L1100.1 896.8L1102.9 895.8L1073.3 808.6ZM1075.9 803.0L1105.1 892.5L1108.0 891.6L1081.6 801.2ZM1082.5 797.0L1110.0 888.6L1113.1 887.7L1089.1 795.2ZM1107.1 778.6L1125.5 878.3L1128.5 877.8L1113.4 777.6ZM1183.4 743.9L1170.5 861.5L1173.3 861.8L1189.8 744.7ZM1191.6 741.9L1174.0 860.8L1176.9 861.3L1198.3 743.0ZM1199.1 740.5L1178.9 860.1L1181.8 860.7L1205.6 741.7ZM1218.2 738.0L1190.8 859.2L1194.0 859.9L1224.7 739.6ZM1225.8 737.6L1196.6 859.2L1199.5 859.9L1232.0 739.2ZM1276.8 742.0L1226.6 863.0L1229.8 864.4L1282.4 744.4ZM1286.1 744.3L1230.6 864.1L1233.2 865.3L1291.9 747.1ZM1301.0 749.3L1240.3 867.4L1242.9 868.7L1306.5 752.2ZM1308.5 752.3L1245.9 869.7L1248.9 871.3L1314.3 755.5ZM1316.8 756.1L1251.6 872.3L1254.7 874.1L1322.7 759.5ZM1346.3 774.1L1269.7 883.3L1272.5 885.4L1351.7 778.0ZM1358.5 784.0L1275.3 887.6L1277.7 889.6L1363.3 787.9ZM1365.8 790.9L1280.3 891.9L1282.8 894.0L1370.6 795.0ZM1376.6 802.3L1286.9 898.3L1289.4 900.7L1381.5 807.0ZM1388.2 816.9L1294.2 906.6L1296.7 909.2L1392.8 821.9ZM1393.0 823.8L1298.3 912.0L1300.6 914.5L1397.0 828.2ZM1402.4 839.3L1303.8 920.1L1306.1 922.9L1406.1 843.9ZM1406.7 847.5L1305.9 923.4L1307.7 925.9L1410.6 852.8ZM1410.2 854.9L1308.6 928.4L1310.3 930.8L1414.1 860.4ZM1428.1 909.7L1320.6 958.7L1322.0 962.0L1430.5 915.2ZM1431.4 929.1L1323.5 971.9L1324.5 974.6L1433.5 934.6ZM1432.4 938.2L1324.3 976.8L1325.2 979.5L1434.5 944.4ZM1433.4 989.0L1325.9 1002.2L1326.3 1005.4L1434.1 995.3ZM1431.6 1008.6L1325.3 1013.9L1325.4 1017.4L1431.8 1014.5ZM1418.2 1068.9L1318.5 1048.1L1317.8 1051.4L1416.8 1075.2Z" fill="#C28178"/>
<path d="M1407.7 1097.5L1312.6 1064.1L1312.0 1065.8L1406.4 1101.1ZM1403.7 1106.6L1310.6 1068.8L1309.9 1070.5L1402.3 1110.0ZM1399.4 1115.8L1307.5 1075.0L1306.9 1076.4L1397.8 1119.1ZM1394.0 1126.4L1304.9 1080.0L1304.2 1081.3L1392.4 1129.3ZM1389.3 1134.8L1302.3 1084.4L1301.5 1085.8L1387.6 1137.7ZM1383.4 1144.7L1298.4 1090.6L1297.5 1092.0L1381.4 1147.8ZM1378.9 1151.9L1296.1 1094.0L1295.0 1095.5L1376.9 1154.7ZM1372.1 1161.9L1294.0 1097.1L1292.7 1098.6L1370.0 1164.4ZM1366.8 1169.2L1290.7 1101.4L1289.5 1102.8L1364.4 1171.9ZM1360.1 1177.9L1287.0 1106.0L1285.8 1107.3L1357.6 1180.4ZM1354.3 1185.0L1282.5 1111.1L1281.4 1112.1L1351.4 1187.6ZM1346.8 1193.2L1276.9 1116.8L1275.7 1117.9L1344.4 1195.3ZM1340.0 1200.5L1275.5 1118.3L1274.1 1119.3L1337.4 1202.5ZM1330.7 1209.2L1269.3 1123.8L1267.9 1124.7L1328.0 1211.1ZM1323.9 1215.4L1264.8 1127.5L1263.4 1128.4L1320.8 1217.5ZM1315.8 1222.3L1261.0 1130.4L1259.4 1131.4L1313.0 1224.0ZM1309.4 1227.4L1257.8 1132.8L1256.4 1133.5L1306.0 1229.3ZM1300.3 1234.2L1250.9 1137.4L1249.5 1138.1L1297.3 1235.7ZM1292.1 1239.8L1247.3 1139.6L1245.8 1140.3L1289.2 1241.1ZM1285.4 1244.0L1242.6 1142.3L1240.9 1143.0L1282.3 1245.4ZM1276.4 1249.4L1235.8 1145.7L1234.2 1146.3L1273.1 1250.6ZM1268.5 1253.6L1230.9 1148.0L1229.3 1148.6L1265.5 1254.7ZM1259.4 1258.1L1226.5 1149.8L1224.6 1150.4L1255.9 1259.2ZM1250.6 1262.1L1220.7 1152.0L1218.9 1152.4L1247.3 1263.0ZM1242.6 1265.3L1217.5 1153.0L1215.7 1153.4L1239.1 1266.1ZM1233.3 1268.6L1210.3 1155.1L1208.6 1155.4L1229.7 1269.3ZM1225.6 1271.0L1205.9 1156.2L1204.0 1156.5L1222.4 1271.6ZM1216.8 1273.4L1202.7 1156.9L1200.9 1157.1L1213.2 1273.8ZM1208.5 1275.3L1198.4 1157.7L1196.6 1157.8L1205.1 1275.6ZM1199.8 1277.0L1191.9 1158.6L1190.1 1158.7L1196.4 1277.2ZM1191.1 1278.2L1187.4 1159.1L1185.4 1159.1L1187.8 1278.3ZM1181.0 1279.2L1181.0 1159.4L1179.3 1159.4L1177.7 1279.2ZM1172.8 1279.7L1174.2 1159.5L1172.5 1159.5L1169.2 1279.6ZM1164.8 1279.8L1169.6 1159.3L1168.0 1159.3L1161.6 1279.6ZM1155.0 1279.5L1165.9 1159.1L1164.1 1158.9L1151.7 1279.2ZM1147.0 1278.8L1158.9 1158.3L1157.3 1158.1L1143.5 1278.5ZM1138.8 1277.8L1153.4 1157.4L1151.4 1157.2L1135.4 1277.4ZM1130.2 1276.4L1150.5 1156.9L1148.6 1156.5L1126.8 1275.8ZM1122.7 1274.8L1143.8 1155.3L1142.1 1155.0L1119.6 1274.3ZM1113.5 1272.4L1139.9 1154.2L1138.0 1153.8L1110.2 1271.7ZM1105.5 1269.9L1133.2 1152.0L1131.6 1151.6L1102.3 1269.1ZM1097.8 1267.1L1131.2 1151.3L1129.7 1150.8L1094.4 1266.1ZM1091.1 1264.3L1124.8 1148.6L1123.1 1148.1L1087.9 1263.3ZM1082.7 1260.4L1119.2 1145.9L1117.7 1145.4L1079.6 1259.4ZM1075.5 1256.5L1115.1 1143.7L1113.5 1143.2L1072.0 1255.3ZM1068.0 1252.1L1111.3 1141.5L1109.6 1140.9L1064.9 1250.9ZM1061.7 1248.0L1106.2 1138.4L1104.6 1137.7L1058.4 1246.7ZM1054.1 1242.5L1102.3 1135.6L1100.7 1134.9L1051.1 1241.2ZM1046.8 1236.8L1098.9 1133.1L1097.5 1132.4L1043.7 1235.2ZM1040.4 1231.2L1094.3 1129.4L1092.9 1128.6L1037.4 1229.6ZM1035.1 1226.2L1090.3 1125.8L1088.9 1125.0L1032.3 1224.6ZM1028.9 1219.8L1087.4 1123.1L1086.1 1122.2L1025.8 1217.9ZM1022.5 1212.5L1084.1 1119.7L1082.6 1118.6L1019.5 1210.5ZM1017.0 1205.7L1079.3 1114.3L1078.0 1113.4L1013.9 1203.6ZM1011.7 1198.5L1076.6 1111.0L1075.0 1109.8L1008.9 1196.5ZM1006.7 1191.2L1073.8 1107.3L1072.3 1106.1L1004.1 1189.1ZM1002.2 1184.0L1069.6 1101.3L1068.2 1100.2L999.7 1181.9ZM998.1 1176.6L1067.1 1097.4L1065.8 1096.2L995.4 1174.2ZM993.5 1167.7L1064.6 1093.0L1063.2 1091.7L991.2 1165.5ZM989.9 1160.0L1062.6 1089.5L1061.5 1088.3L987.6 1157.7ZM986.3 1151.5L1059.4 1082.9L1058.2 1081.6L984.0 1149.1ZM983.3 1143.4L1057.8 1079.3L1056.7 1078.0L980.9 1140.6ZM980.0 1133.5L1055.1 1072.4L1054.0 1071.0L977.7 1130.7ZM977.6 1125.6L1053.7 1068.3L1052.5 1066.7L975.6 1122.9ZM975.1 1115.8L1051.9 1062.8L1051.0 1061.4L973.2 1113.1ZM972.8 1105.3L1050.4 1057.1L1049.5 1055.6L971.0 1102.4ZM971.2 1096.1L1049.0 1050.9L1048.1 1049.3L969.6 1093.4ZM970.0 1088.1L1048.6 1048.9L1047.9 1047.3L968.5 1085.1ZM968.7 1076.7L1047.6 1043.2L1046.9 1041.4L967.3 1073.4ZM968.1 1068.2L1046.8 1037.0L1046.2 1035.4L966.9 1065.1ZM967.6 1057.9L1046.4 1031.9L1045.8 1030.2L966.5 1054.4ZM967.5 1048.0L1046.1 1027.4L1045.7 1025.9L966.6 1044.8ZM967.7 1037.8L1045.9 1018.5L1045.5 1017.0L966.9 1034.2ZM968.2 1028.4L1046.0 1013.3L1045.7 1011.6L967.6 1025.0ZM969.2 1016.4L1046.2 1009.0L1046.1 1007.4L968.9 1012.7ZM970.3 1007.3L1046.8 1002.5L1046.7 1000.8L970.1 1003.9ZM971.9 996.6L1047.3 998.1L1047.4 996.2L972.0 993.3ZM973.6 987.3L1048.1 992.8L1048.3 991.0L973.9 983.7ZM975.9 976.4L1049.2 987.1L1049.5 985.2L976.4 973.0ZM978.0 967.9L1050.1 982.8L1050.5 981.2L978.7 964.6ZM980.8 957.7L1051.7 976.6L1052.1 974.9L981.8 954.0ZM984.1 947.2L1054.0 968.8L1054.6 967.0L985.2 943.6ZM987.5 937.4L1055.0 965.8L1055.8 964.0L988.7 934.4ZM991.1 927.8L1056.9 960.6L1057.6 959.2L992.8 924.4ZM995.2 917.9L1059.9 953.3L1060.8 951.6L996.8 914.9ZM999.7 907.9L1061.9 949.0L1062.8 947.6L1001.8 904.7ZM1004.4 898.3L1065.6 941.7L1066.6 940.3L1006.6 895.2ZM1009.2 889.2L1066.6 939.8L1067.8 938.4L1011.6 886.5ZM1013.8 881.1L1069.8 934.2L1071.1 932.9L1016.1 878.7ZM1018.8 872.8L1072.2 930.4L1073.3 929.3L1021.3 870.5ZM1024.7 863.7L1075.4 925.6L1076.6 924.6L1027.3 861.6ZM1029.4 855.6L1078.7 920.4L1080.1 919.4L1032.2 853.5ZM1035.3 847.4L1082.2 915.8L1083.8 914.8L1038.4 845.3ZM1041.4 839.5L1086.9 910.2L1088.5 909.3L1044.7 837.5ZM1048.1 831.5L1089.7 907.2L1091.1 906.5L1051.2 829.9ZM1054.3 824.5L1092.5 904.2L1094.0 903.5L1057.3 823.1ZM1060.8 817.6L1096.5 900.2L1098.2 899.5L1063.8 816.4ZM1067.9 810.6L1100.2 896.8L1101.7 896.3L1071.0 809.5ZM1076.1 803.0L1105.2 892.5L1106.8 892.0L1079.2 802.0ZM1082.8 797.0L1110.2 888.6L1111.8 888.1L1086.4 796.0ZM1091.6 789.9L1114.4 885.3L1116.4 884.9L1095.0 789.1ZM1099.1 784.3L1120.5 881.4L1122.1 881.1L1102.7 783.5ZM1107.3 778.6L1125.6 878.3L1127.3 878.1L1110.8 778.0ZM1114.8 773.8L1129.3 876.2L1131.2 875.9L1118.1 773.4ZM1123.3 768.5L1132.1 874.6L1134.0 874.5L1127.0 768.2ZM1131.5 764.0L1137.3 872.1L1139.1 872.1L1135.2 763.9ZM1139.6 760.0L1141.9 870.1L1143.6 870.1L1143.1 760.0ZM1147.8 756.2L1147.8 867.7L1149.7 867.7L1151.4 756.3ZM1157.4 752.4L1154.8 865.4L1156.5 865.5L1160.7 752.5ZM1165.6 749.4L1157.9 864.4L1159.7 864.5L1168.8 749.6ZM1174.7 746.5L1165.4 862.5L1167.2 862.7L1178.0 746.8ZM1183.6 743.9L1170.6 861.5L1172.1 861.7L1187.2 744.4ZM1191.8 741.9L1174.1 860.8L1175.7 861.1L1195.5 742.5ZM1199.3 740.5L1179.0 860.2L1180.6 860.4L1202.9 741.2ZM1209.0 739.1L1185.5 859.5L1187.4 859.8L1212.4 739.8ZM1218.4 738.0L1190.9 859.2L1192.6 859.6L1222.0 738.9ZM1226.0 737.6L1196.7 859.2L1198.3 859.6L1229.4 738.5ZM1235.6 737.4L1202.0 859.4L1203.6 859.8L1239.1 738.4ZM1243.9 737.6L1205.4 859.5L1206.9 860.1L1247.2 738.7ZM1252.2 738.1L1211.7 860.2L1213.3 860.8L1255.7 739.4ZM1260.4 739.1L1214.3 860.5L1216.0 861.2L1263.6 740.3ZM1269.3 740.5L1221.8 861.9L1223.5 862.6L1272.4 741.8ZM1277.0 742.1L1226.7 863.0L1228.5 863.8L1280.1 743.4ZM1286.3 744.4L1230.7 864.1L1232.1 864.8L1289.5 746.0ZM1294.2 746.9L1237.0 866.2L1238.6 867.0L1297.2 748.4ZM1301.2 749.4L1240.4 867.4L1241.8 868.2L1304.2 751.0ZM1308.7 752.4L1246.0 869.7L1247.7 870.6L1311.9 754.1ZM1317.0 756.2L1251.8 872.4L1253.4 873.4L1320.2 758.1ZM1324.6 760.2L1256.3 874.8L1257.6 875.6L1327.5 762.0ZM1332.2 764.6L1260.1 876.9L1261.5 877.9L1335.3 766.6ZM1338.9 768.8L1262.8 878.6L1264.3 879.6L1342.0 771.0ZM1346.4 774.3L1269.8 883.4L1271.3 884.5L1349.4 776.4ZM1353.2 779.5L1271.8 884.8L1273.1 885.8L1356.1 781.8ZM1358.7 784.2L1275.4 887.7L1276.7 888.8L1361.3 786.3ZM1366.0 791.0L1280.4 892.0L1281.7 893.1L1368.6 793.3ZM1371.8 797.0L1285.1 896.5L1286.3 897.6L1374.6 799.5ZM1376.7 802.5L1287.0 898.4L1288.4 899.7L1379.4 805.1ZM1383.2 810.3L1291.7 903.6L1292.9 904.8L1385.7 812.8ZM1388.3 817.1L1294.3 906.7L1295.6 908.2L1390.9 819.8ZM1393.1 824.0L1298.4 912.1L1299.6 913.4L1395.3 826.4ZM1398.2 832.0L1300.5 915.1L1301.7 916.5L1400.4 834.5ZM1402.5 839.5L1303.9 920.2L1305.1 921.8L1404.6 842.0ZM1406.8 847.7L1305.9 923.5L1306.9 924.8L1409.0 850.6ZM1410.4 855.1L1308.7 928.5L1309.6 929.8L1412.5 858.1ZM1414.0 863.6L1312.1 935.3L1313.0 936.6L1416.1 866.8ZM1417.6 872.9L1314.4 940.5L1315.2 941.9L1419.5 875.9ZM1420.6 881.6L1316.0 944.5L1316.8 946.1L1422.5 884.8ZM1423.5 891.1L1317.8 949.6L1318.6 951.1L1425.3 894.5ZM1425.8 899.6L1319.5 955.0L1320.3 956.5L1427.4 902.9ZM1428.2 909.9L1320.6 958.8L1321.4 960.6L1429.5 912.9ZM1430.0 919.7L1322.1 964.8L1322.8 966.5L1431.3 923.1ZM1431.5 929.3L1323.6 972.0L1324.1 973.5L1432.6 932.3ZM1432.5 938.4L1324.3 976.9L1324.8 978.3L1433.6 941.9ZM1433.3 948.7L1325.0 982.4L1325.5 984.2L1434.4 952.2ZM1433.9 958.2L1325.4 986.4L1325.8 988.1L1434.7 961.5ZM1434.1 967.9L1325.7 991.6L1326.1 993.4L1434.8 971.4ZM1433.9 977.2L1325.9 998.6L1326.2 1000.2L1434.5 980.7ZM1433.4 989.2L1325.9 1002.3L1326.1 1004.1L1433.8 992.7ZM1432.6 997.9L1325.5 1010.6L1325.7 1012.5L1433.0 1001.7ZM1431.6 1008.8L1325.3 1014.0L1325.3 1016.0L1431.7 1012.1ZM1430.2 1018.5L1324.5 1020.8L1324.5 1022.5L1430.2 1021.7ZM1428.3 1028.8L1323.5 1027.5L1323.4 1029.2L1428.2 1032.3ZM1426.2 1039.3L1322.9 1030.9L1322.7 1032.6L1425.9 1042.7ZM1424.0 1048.6L1321.5 1037.1L1321.3 1038.7L1423.6 1052.1ZM1421.4 1058.6L1320.7 1040.7L1320.3 1042.6L1420.8 1062.0ZM1418.2 1069.1L1318.5 1048.2L1318.1 1050.0L1417.4 1072.6ZM1415.1 1078.1L1316.5 1054.1L1316.0 1056.0L1414.3 1081.3ZM1411.1 1089.1L1314.9 1058.6L1314.3 1060.4L1410.1 1092.2Z" fill="#D69C92" opacity="0.9"/>
<path d="M1364.9 1117.6L1354.7 1111.3M1367.7 1121.2L1351.4 1112.2M1336.4 1149.2L1319.2 1132.6M1325.4 1151.2L1308.7 1133.4M1305.0 1180.0L1294.6 1164.3M1280.1 1168.9L1268.5 1148.2M1282.0 1205.5L1274.2 1188.8M1276.3 1211.9L1270.6 1197.8M1254.4 1203.1L1251.3 1193.3M1205.2 1206.6L1202.8 1184.8M1186.2 1235.4L1186.0 1208.8M1183.7 1233.0L1183.2 1211.5M1176.1 1224.1L1175.8 1201.4M1163.8 1213.2L1165.1 1199.0M1160.1 1249.5L1160.8 1236.0M1117.4 1229.9L1123.4 1201.9M1105.3 1227.8L1113.6 1201.7M1103.3 1232.7L1108.2 1213.8M1103.8 1202.6L1109.9 1181.6M1050.7 1176.9L1058.3 1165.6M1054.5 1158.1L1065.2 1143.1M1041.3 1142.8L1051.7 1130.8M1022.9 1122.8L1035.9 1111.1M1017.5 1117.3L1023.9 1112.1M1012.6 1113.3L1019.1 1108.6M1027.6 1097.9L1042.9 1084.8M1012.4 1102.8L1022.6 1094.4M1001.1 1093.9L1015.5 1084.8M1000.1 1084.1L1019.1 1073.2M999.0 1075.9L1006.2 1072.4M1002.1 1068.1L1019.3 1060.3M1016.2 1052.1L1027.6 1046.9M1002.0 1024.1L1019.9 1020.2M1012.4 1009.1L1023.0 1008.7M1010.7 1001.0L1023.4 1000.9M1010.3 970.7L1016.7 972.8M1011.4 962.0L1018.4 964.6M1024.1 949.2L1038.2 955.8M1025.3 937.3L1031.6 940.1M1034.5 934.0L1043.0 939.0M1027.5 910.8L1035.9 917.5M1038.5 900.1L1050.3 912.0M1045.4 896.7L1051.8 904.5M1055.0 895.4L1062.0 905.0M1047.5 870.0L1054.6 880.8M1068.8 838.2L1074.7 850.7M1096.4 813.0L1102.0 835.0M1127.2 826.1L1129.0 844.5M1132.1 802.9L1132.9 823.6M1139.1 795.7L1138.9 807.7M1147.4 784.1L1147.8 795.5M1179.7 774.9L1178.4 790.2M1188.1 801.1L1183.8 824.0M1201.4 775.4L1199.4 788.0M1219.6 787.1L1213.8 807.5M1232.0 810.5L1226.1 827.4M1240.5 811.3L1235.9 824.5M1256.4 820.1L1242.8 847.3M1282.0 785.1L1272.4 803.2M1291.9 782.8L1283.8 798.9M1287.4 807.8L1272.9 834.1M1312.2 794.5L1301.6 811.7M1311.8 822.5L1304.0 834.4M1315.9 849.1L1305.1 862.4M1334.2 867.9L1321.9 880.1M1360.0 871.6L1336.4 890.5M1374.2 917.6L1362.0 924.9M1398.7 1015.5L1384.9 1015.5M1395.2 1036.0L1383.3 1035.5M1394.0 1064.0L1374.3 1060.1" stroke="#F0DACF" stroke-width="1.3" fill="none" stroke-linecap="round" stroke-dasharray="5 2.5" opacity="0.8"/>
<ellipse cx="1201" cy="1009" rx="234" ry="287" transform="rotate(22.7 1201 1009)" fill="url(#gFaceSh)"/>
<ellipse cx="1186" cy="1009.5" rx="134" ry="148" transform="rotate(22.7 1186 1009.5)" fill="none" stroke="url(#gInner)" stroke-width="20"/>
<g fill="url(#gIB)" opacity="0.7"><circle cx="1310.5" cy="1061.6" r="6.6"/><circle cx="1304.5" cy="1074.4" r="6.6"/><circle cx="1297.4" cy="1086.7" r="6.6"/><circle cx="1289.3" cy="1098.2" r="6.6"/><circle cx="1280.3" cy="1109.0" r="6.6"/><circle cx="1270.3" cy="1118.8" r="6.6"/><circle cx="1259.7" cy="1127.6" r="6.6"/><circle cx="1248.4" cy="1135.4" r="6.6"/><circle cx="1236.5" cy="1142.1" r="6.6"/><circle cx="1224.1" cy="1147.5" r="6.6"/><circle cx="1211.4" cy="1151.7" r="6.6"/><circle cx="1198.5" cy="1154.6" r="6.6"/><circle cx="1185.4" cy="1156.2" r="6.6"/><circle cx="1172.4" cy="1156.4" r="6.6"/><circle cx="1159.5" cy="1155.4" r="6.6"/><circle cx="1146.8" cy="1153.0" r="6.6"/><circle cx="1134.5" cy="1149.3" r="6.6"/><circle cx="1122.6" cy="1144.3" r="6.6"/><circle cx="1111.4" cy="1138.1" r="6.6"/><circle cx="1100.8" cy="1130.8" r="6.6"/><circle cx="1090.9" cy="1122.4" r="6.6"/><circle cx="1082.0" cy="1112.9" r="6.6"/><circle cx="1073.9" cy="1102.5" r="6.6"/><circle cx="1066.9" cy="1091.3" r="6.6"/><circle cx="1061.0" cy="1079.3" r="6.6"/><circle cx="1056.2" cy="1066.7" r="6.6"/><circle cx="1052.6" cy="1053.5" r="6.6"/><circle cx="1050.1" cy="1040.0" r="6.6"/><circle cx="1049.0" cy="1026.2" r="6.6"/><circle cx="1049.0" cy="1012.2" r="6.6"/><circle cx="1050.3" cy="998.2" r="6.6"/><circle cx="1052.8" cy="984.4" r="6.6"/><circle cx="1056.6" cy="970.7" r="6.6"/><circle cx="1061.5" cy="957.4" r="6.6"/><circle cx="1067.5" cy="944.6" r="6.6"/><circle cx="1074.6" cy="932.3" r="6.6"/><circle cx="1082.7" cy="920.8" r="6.6"/><circle cx="1091.7" cy="910.0" r="6.6"/><circle cx="1101.7" cy="900.2" r="6.6"/><circle cx="1112.3" cy="891.4" r="6.6"/><circle cx="1123.6" cy="883.6" r="6.6"/><circle cx="1135.5" cy="876.9" r="6.6"/><circle cx="1147.9" cy="871.5" r="6.6"/><circle cx="1160.6" cy="867.3" r="6.6"/><circle cx="1173.5" cy="864.4" r="6.6"/><circle cx="1186.6" cy="862.8" r="6.6"/><circle cx="1199.6" cy="862.6" r="6.6"/><circle cx="1212.5" cy="863.6" r="6.6"/><circle cx="1225.2" cy="866.0" r="6.6"/><circle cx="1237.5" cy="869.7" r="6.6"/><circle cx="1249.4" cy="874.7" r="6.6"/><circle cx="1260.6" cy="880.9" r="6.6"/><circle cx="1271.2" cy="888.2" r="6.6"/><circle cx="1281.1" cy="896.6" r="6.6"/><circle cx="1290.0" cy="906.1" r="6.6"/><circle cx="1298.1" cy="916.5" r="6.6"/><circle cx="1305.1" cy="927.7" r="6.6"/><circle cx="1311.0" cy="939.7" r="6.6"/><circle cx="1315.8" cy="952.3" r="6.6"/><circle cx="1319.4" cy="965.5" r="6.6"/><circle cx="1321.9" cy="979.0" r="6.6"/><circle cx="1323.0" cy="992.8" r="6.6"/><circle cx="1323.0" cy="1006.8" r="6.6"/><circle cx="1321.7" cy="1020.8" r="6.6"/><circle cx="1319.2" cy="1034.6" r="6.6"/><circle cx="1315.4" cy="1048.3" r="6.6"/></g>
<ellipse cx="1185" cy="1009.5" rx="127" ry="140" transform="rotate(22.7 1185 1009.5)" fill="url(#gCav)"/>
<ellipse cx="1182.5" cy="1012.5" rx="122" ry="130" transform="rotate(12 1182.5 1012.5)" fill="url(#gCore)"/>
<g fill="url(#gBead)"><circle cx="1414.1" cy="1098.1" r="11.0"/><circle cx="1405.3" cy="1117.5" r="10.9"/><circle cx="1395.4" cy="1136.2" r="10.9"/><circle cx="1384.4" cy="1154.2" r="10.8"/><circle cx="1372.3" cy="1171.4" r="10.8"/><circle cx="1359.3" cy="1187.7" r="10.7"/><circle cx="1345.4" cy="1203.0" r="10.6"/><circle cx="1330.8" cy="1217.2" r="10.5"/><circle cx="1315.3" cy="1230.2" r="10.4"/><circle cx="1299.3" cy="1242.1" r="10.4"/><circle cx="1282.7" cy="1252.6" r="10.3"/><circle cx="1265.6" cy="1261.7" r="10.2"/><circle cx="1248.2" cy="1269.4" r="10.1"/><circle cx="1230.5" cy="1275.7" r="10.0"/><circle cx="1212.6" cy="1280.5" r="9.9"/><circle cx="1194.7" cy="1283.7" r="9.8"/><circle cx="1176.8" cy="1285.5" r="9.7"/><circle cx="1159.1" cy="1285.6" r="9.6"/><circle cx="1141.6" cy="1284.3" r="9.5"/><circle cx="1124.4" cy="1281.4" r="9.4"/><circle cx="1107.6" cy="1276.9" r="9.3"/><circle cx="1091.4" cy="1271.0" r="9.2"/><circle cx="1075.8" cy="1263.6" r="9.1"/><circle cx="1060.9" cy="1254.8" r="9.0"/><circle cx="1046.7" cy="1244.6" r="8.9"/><circle cx="1033.5" cy="1233.1" r="8.9"/><circle cx="1021.1" cy="1220.3" r="8.8"/><circle cx="1009.8" cy="1206.4" r="8.7"/><circle cx="999.5" cy="1191.3" r="8.7"/><circle cx="990.4" cy="1175.3" r="8.6"/><circle cx="982.4" cy="1158.3" r="8.6"/><circle cx="975.7" cy="1140.4" r="8.5"/><circle cx="970.2" cy="1121.9" r="8.5"/><circle cx="966.1" cy="1102.7" r="8.5"/><circle cx="963.2" cy="1082.9" r="8.5"/><circle cx="961.6" cy="1062.8" r="8.5"/><circle cx="961.4" cy="1042.4" r="8.5"/><circle cx="962.6" cy="1021.7" r="8.5"/><circle cx="965.1" cy="1001.0" r="8.5"/><circle cx="968.8" cy="980.4" r="8.5"/><circle cx="973.9" cy="959.9" r="8.5"/><circle cx="980.3" cy="939.7" r="8.6"/><circle cx="987.9" cy="919.9" r="8.6"/><circle cx="996.7" cy="900.5" r="8.7"/><circle cx="1006.6" cy="881.8" r="8.7"/><circle cx="1017.6" cy="863.8" r="8.8"/><circle cx="1029.7" cy="846.6" r="8.8"/><circle cx="1042.7" cy="830.3" r="8.9"/><circle cx="1056.6" cy="815.0" r="9.0"/><circle cx="1071.2" cy="800.8" r="9.1"/><circle cx="1086.7" cy="787.8" r="9.2"/><circle cx="1102.7" cy="775.9" r="9.2"/><circle cx="1119.3" cy="765.4" r="9.3"/><circle cx="1136.4" cy="756.3" r="9.4"/><circle cx="1153.8" cy="748.6" r="9.5"/><circle cx="1171.5" cy="742.3" r="9.6"/><circle cx="1189.4" cy="737.5" r="9.7"/><circle cx="1207.3" cy="734.3" r="9.8"/><circle cx="1225.2" cy="732.5" r="9.9"/><circle cx="1242.9" cy="732.4" r="10.0"/><circle cx="1260.4" cy="733.7" r="10.1"/><circle cx="1277.6" cy="736.6" r="10.2"/><circle cx="1294.4" cy="741.1" r="10.3"/><circle cx="1310.6" cy="747.0" r="10.4"/><circle cx="1326.2" cy="754.4" r="10.5"/><circle cx="1341.1" cy="763.2" r="10.6"/><circle cx="1355.3" cy="773.4" r="10.7"/><circle cx="1368.5" cy="784.9" r="10.7"/><circle cx="1380.9" cy="797.7" r="10.8"/><circle cx="1392.2" cy="811.6" r="10.9"/><circle cx="1402.5" cy="826.7" r="10.9"/><circle cx="1411.6" cy="842.7" r="11.0"/><circle cx="1419.6" cy="859.7" r="11.0"/><circle cx="1426.3" cy="877.6" r="11.1"/><circle cx="1431.8" cy="896.1" r="11.1"/><circle cx="1435.9" cy="915.3" r="11.1"/><circle cx="1438.8" cy="935.1" r="11.1"/><circle cx="1440.4" cy="955.2" r="11.1"/><circle cx="1440.6" cy="975.6" r="11.1"/><circle cx="1439.4" cy="996.3" r="11.1"/><circle cx="1436.9" cy="1017.0" r="11.1"/><circle cx="1433.2" cy="1037.6" r="11.1"/><circle cx="1428.1" cy="1058.1" r="11.1"/><circle cx="1421.7" cy="1078.3" r="11.0"/></g></g></svg>
<div class="t" id="t1" style="left:479.40px;top:90.25px;font-size:55.23px;font-weight:400;font-style:normal;color:#0b0b0b;-webkit-text-stroke:1.2px #0b0b0b;transform:scaleX(0.9012)">MOST BIOAVAILABLE</div>
<div class="t" id="t2" style="left:353.06px;top:137.61px;font-size:109.74px;font-weight:700;font-style:italic;color:#BD5A40;transform:scaleX(0.9406)">Liposomal Iron</div>
<div class="t" id="a1" style="left:237.98px;top:545.13px;font-size:35.76px;font-weight:400;font-style:normal;color:#141414;-webkit-text-stroke:0.7px #141414;transform:scaleX(1.0181)">98% Absorbed*</div>
<div class="t" id="a2" style="left:238.40px;top:768.73px;font-size:35.76px;font-weight:400;font-style:normal;color:#141414;-webkit-text-stroke:0.7px #141414;transform:scaleX(0.7998)">10%</div>
<div class="t" id="a3" style="left:186.60px;top:804.03px;font-size:37.06px;font-weight:400;font-style:normal;color:#141414;-webkit-text-stroke:0.7px #141414;transform:scaleX(1.0411)">Absorbed.</div>
<div class="t" id="b1" style="left:215.33px;top:1185.46px;font-size:96.80px;font-weight:700;font-style:normal;color:#BD5A40;transform:scaleX(0.8905)">98%</div>
<div class="t" id="b2" style="left:402.43px;top:1184.87px;font-size:34.88px;font-weight:400;font-style:normal;color:#141414;-webkit-text-stroke:0.7px #141414;transform:scaleX(0.9841)">More BIOAVAILABLE</div>
<div class="t" id="b3" style="left:404.40px;top:1225.67px;font-size:34.88px;font-weight:400;font-style:normal;color:#141414;-webkit-text-stroke:0.7px #141414;transform:scaleX(0.9245)">WITH LIPOSOMES*</div>
<div class="t" id="b4" style="left:406.70px;top:1267.00px;font-size:31.54px;font-weight:400;font-style:normal;color:#141414;transform:scaleX(1.0085)">Vs Standard Iron Supplements</div>
<div class="t" id="r1" style="left:179.48px;top:1404.31px;font-size:39.68px;font-weight:400;font-style:normal;color:#141414;transform:scaleX(0.9409)">Reference:*Rangaraj S, Suresh P, Sundar S, et al. (November 18, 2025)</div>
<div class="t" id="p1" style="left:841.27px;top:481.41px;font-size:39.68px;font-weight:400;font-style:normal;color:#141414;transform:scaleX(1.0111)">Liposomes</div>
<div class="t" id="p1b" style="left:1054.32px;top:481.41px;font-size:39.68px;font-weight:400;font-style:normal;color:#141414;transform:scaleX(1.0192)">wrap the nutrients in</div>
<div class="t" id="p2" style="left:843.28px;top:534.21px;font-size:39.68px;font-weight:400;font-style:normal;color:#141414;transform:scaleX(1.0195)">a phospholipid bilayer to shield</div>
<div class="t" id="p3" style="left:842.24px;top:587.01px;font-size:39.68px;font-weight:400;font-style:normal;color:#141414;transform:scaleX(1.0323)">it from stomach acid, ensuring</div>
<div class="t" id="p4" style="left:842.25px;top:639.81px;font-size:39.68px;font-weight:400;font-style:normal;color:#141414;transform:scaleX(1.0272)">maximum absorption in our cells.</div>
<div class="t" id="ax0" style="left:94.74px;top:1115.03px;font-size:26.31px;font-weight:400;font-style:normal;color:#141414;transform:scaleX(1.0615)">0</div>
<div class="t" id="ax1" style="left:171.58px;top:1115.03px;font-size:26.31px;font-weight:400;font-style:normal;color:#141414;transform:scaleX(0.5583)">1</div>
<div class="t" id="ax2" style="left:180.59px;top:1115.03px;font-size:26.31px;font-weight:400;font-style:normal;color:#141414;transform:scaleX(1.0077)">0</div>
<div class="t" id="ax3" style="left:256.93px;top:1115.03px;font-size:26.31px;font-weight:400;font-style:normal;color:#141414;transform:scaleX(1.0679)">20</div>
<div class="t" id="ax4" style="left:348.91px;top:1115.03px;font-size:26.31px;font-weight:400;font-style:normal;color:#141414;transform:scaleX(1.0860)">30</div>
<div class="t" id="ax5" style="left:443.00px;top:1115.03px;font-size:26.31px;font-weight:400;font-style:normal;color:#141414;transform:scaleX(1.0480)">40</div>
<div class="t" id="ax6" style="left:536.54px;top:1115.03px;font-size:26.31px;font-weight:400;font-style:normal;color:#141414;transform:scaleX(1.0643)">50</div>
<div class="t" id="ax7" style="left:628.88px;top:1115.03px;font-size:26.31px;font-weight:400;font-style:normal;color:#141414;transform:scaleX(1.1222)">60</div>
<div class="t" id="ax8" style="left:721.99px;top:1115.03px;font-size:26.31px;font-weight:400;font-style:normal;color:#141414;transform:scaleX(1.0136)">70</div>
<div class="t" id="ax9" style="left:813.90px;top:1115.03px;font-size:26.31px;font-weight:400;font-style:normal;color:#141414;transform:scaleX(1.1041)">80</div>
<div class="t" style="left:73.50px;top:722.62px;font-size:28.78px;color:#141414;-webkit-text-stroke:0.3px #141414;transform-origin:0 24.36px;transform:rotate(-90deg) scaleX(0.9904)">Iron Liposomal</div>
<div class="t" style="left:47.50px;top:1002.30px;font-size:29.51px;color:#141414;-webkit-text-stroke:0.3px #141414;transform-origin:0 24.98px;transform:rotate(-90deg) scaleX(0.9787)">Standard Iron</div>
<div class="t" style="left:79.00px;top:1003.90px;font-size:28.49px;color:#141414;-webkit-text-stroke:0.3px #141414;transform-origin:0 24.12px;transform:rotate(-90deg) scaleX(1.0092)">Iron Supplement</div>
</div></body></html>
